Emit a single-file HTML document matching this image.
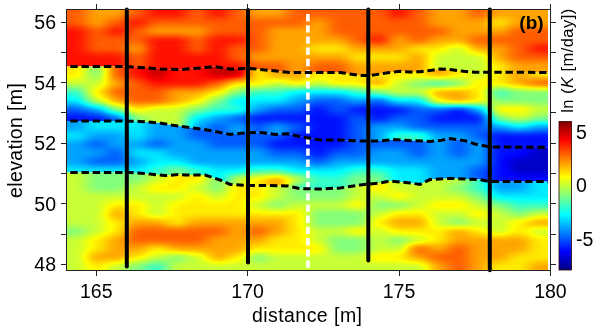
<!DOCTYPE html>
<html><head><meta charset="utf-8"><style>
html,body{margin:0;padding:0;background:#fff;width:602px;height:331px;overflow:hidden}
svg{display:block;position:absolute;left:0;top:0;will-change:transform}
</style></head><body>
<svg width="602" height="331" viewBox="0 0 602 331">
<defs>
<clipPath id="plot"><rect x="67" y="10" width="481" height="260"/></clipPath>
<clipPath id="z0"><polygon points="60.0,0.0 560.0,0.0 556.0,72.4 475.0,72.3 460.0,70.9 450.0,69.6 440.0,69.0 430.0,70.4 420.0,71.7 410.0,72.0 400.0,71.3 390.0,72.4 370.0,75.6 360.0,75.6 340.0,72.4 290.0,72.4 270.0,70.4 250.0,68.4 230.0,69.0 215.0,66.6 200.0,68.0 180.0,69.6 160.0,69.0 140.0,67.4 125.0,66.5 60.0,66.5"/></clipPath>
<clipPath id="z1"><polygon points="60.0,66.5 125.0,66.5 140.0,67.4 160.0,69.0 180.0,69.6 200.0,68.0 215.0,66.6 230.0,69.0 250.0,68.4 270.0,70.4 290.0,72.4 340.0,72.4 360.0,75.6 370.0,75.6 390.0,72.4 400.0,71.3 410.0,72.0 420.0,71.7 430.0,70.4 440.0,69.0 450.0,69.6 460.0,70.9 475.0,72.3 556.0,72.4 556.0,147.3 490.0,147.0 475.0,144.0 465.0,140.6 450.0,138.6 440.0,140.6 430.0,141.4 410.0,140.6 395.0,139.5 380.0,141.0 360.0,141.0 340.0,140.0 320.0,140.0 300.0,136.6 288.0,133.8 275.0,134.4 260.0,132.4 245.0,133.0 230.0,134.4 210.0,130.4 190.0,127.6 170.0,124.8 160.0,123.0 140.0,121.4 125.0,121.1 60.0,121.1"/></clipPath>
<clipPath id="z2"><polygon points="60.0,121.1 125.0,121.1 140.0,121.4 160.0,123.0 170.0,124.8 190.0,127.6 210.0,130.4 230.0,134.4 245.0,133.0 260.0,132.4 275.0,134.4 288.0,133.8 300.0,136.6 320.0,140.0 340.0,140.0 360.0,141.0 380.0,141.0 395.0,139.5 410.0,140.6 430.0,141.4 440.0,140.6 450.0,138.6 465.0,140.6 475.0,144.0 490.0,147.0 556.0,147.3 556.0,181.6 490.0,181.6 480.0,179.6 465.0,179.0 450.0,178.4 430.0,179.6 420.0,184.4 410.0,183.0 390.0,181.0 380.0,183.0 360.0,185.0 340.0,188.0 320.0,189.0 300.0,188.6 288.0,186.0 270.0,185.6 250.0,185.6 230.0,184.4 220.0,180.0 205.0,175.0 185.0,175.0 178.0,174.6 165.0,175.6 150.0,174.0 130.0,172.4 60.0,172.4"/></clipPath>
<clipPath id="z3"><polygon points="60.0,172.4 130.0,172.4 150.0,174.0 165.0,175.6 178.0,174.6 185.0,175.0 205.0,175.0 220.0,180.0 230.0,184.4 250.0,185.6 270.0,185.6 288.0,186.0 300.0,188.6 320.0,189.0 340.0,188.0 360.0,185.0 380.0,183.0 390.0,181.0 410.0,183.0 420.0,184.4 430.0,179.6 450.0,178.4 465.0,179.0 480.0,179.6 490.0,181.6 556.0,181.6 560.0,300.0 60.0,300.0"/></clipPath>
<filter id="bl" x="-5%" y="-5%" width="110%" height="110%" color-interpolation-filters="sRGB"><feGaussianBlur stdDeviation="7 3"/><feComponentTransfer><feFuncR type="table" tableValues="0 0 0 0 0.5 1 1 1 0.5"/><feFuncG type="table" tableValues="0 0 0.5 1 1 1 0.5 0 0"/><feFuncB type="table" tableValues="0.5 1 1 1 0.5 0 0 0 0"/></feComponentTransfer></filter>
</defs>
<g clip-path="url(#plot)">
<g clip-path="url(#z0)"><g filter="url(#bl)">
<rect x="26.2" y="-7.9" width="61.0" height="9.3" fill="#c8c8c8"/>
<rect x="86.6" y="-7.9" width="40.9" height="9.3" fill="#b6b6b6"/>
<rect x="126.9" y="-7.9" width="20.7" height="9.3" fill="#c8c8c8"/>
<rect x="147.0" y="-7.9" width="40.9" height="9.3" fill="#dbdbdb"/>
<rect x="187.2" y="-7.9" width="20.7" height="9.3" fill="#c8c8c8"/>
<rect x="207.4" y="-7.9" width="20.7" height="9.3" fill="#dbdbdb"/>
<rect x="227.5" y="-7.9" width="20.7" height="9.3" fill="#c8c8c8"/>
<rect x="247.6" y="-7.9" width="40.9" height="9.3" fill="#b6b6b6"/>
<rect x="287.9" y="-7.9" width="101.2" height="9.3" fill="#c8c8c8"/>
<rect x="388.5" y="-7.9" width="20.7" height="9.3" fill="#dbdbdb"/>
<rect x="408.6" y="-7.9" width="20.7" height="9.3" fill="#c8c8c8"/>
<rect x="428.8" y="-7.9" width="40.9" height="9.3" fill="#b6b6b6"/>
<rect x="469.0" y="-7.9" width="20.7" height="9.3" fill="#c8c8c8"/>
<rect x="489.1" y="-7.9" width="101.2" height="9.3" fill="#b6b6b6"/>
<rect x="26.2" y="0.8" width="61.0" height="9.3" fill="#c8c8c8"/>
<rect x="86.6" y="0.8" width="40.9" height="9.3" fill="#b6b6b6"/>
<rect x="126.9" y="0.8" width="20.7" height="9.3" fill="#c8c8c8"/>
<rect x="147.0" y="0.8" width="40.9" height="9.3" fill="#dbdbdb"/>
<rect x="187.2" y="0.8" width="20.7" height="9.3" fill="#c8c8c8"/>
<rect x="207.4" y="0.8" width="20.7" height="9.3" fill="#dbdbdb"/>
<rect x="227.5" y="0.8" width="20.7" height="9.3" fill="#c8c8c8"/>
<rect x="247.6" y="0.8" width="40.9" height="9.3" fill="#b6b6b6"/>
<rect x="287.9" y="0.8" width="101.2" height="9.3" fill="#c8c8c8"/>
<rect x="388.5" y="0.8" width="20.7" height="9.3" fill="#dbdbdb"/>
<rect x="408.6" y="0.8" width="20.7" height="9.3" fill="#c8c8c8"/>
<rect x="428.8" y="0.8" width="40.9" height="9.3" fill="#b6b6b6"/>
<rect x="469.0" y="0.8" width="20.7" height="9.3" fill="#c8c8c8"/>
<rect x="489.1" y="0.8" width="101.2" height="9.3" fill="#b6b6b6"/>
<rect x="26.2" y="9.5" width="61.0" height="9.3" fill="#c8c8c8"/>
<rect x="86.6" y="9.5" width="40.9" height="9.3" fill="#b6b6b6"/>
<rect x="126.9" y="9.5" width="20.7" height="9.3" fill="#c8c8c8"/>
<rect x="147.0" y="9.5" width="40.9" height="9.3" fill="#dbdbdb"/>
<rect x="187.2" y="9.5" width="20.7" height="9.3" fill="#c8c8c8"/>
<rect x="207.4" y="9.5" width="20.7" height="9.3" fill="#dbdbdb"/>
<rect x="227.5" y="9.5" width="20.7" height="9.3" fill="#c8c8c8"/>
<rect x="247.6" y="9.5" width="40.9" height="9.3" fill="#b6b6b6"/>
<rect x="287.9" y="9.5" width="101.2" height="9.3" fill="#c8c8c8"/>
<rect x="388.5" y="9.5" width="20.7" height="9.3" fill="#dbdbdb"/>
<rect x="408.6" y="9.5" width="20.7" height="9.3" fill="#c8c8c8"/>
<rect x="428.8" y="9.5" width="40.9" height="9.3" fill="#b6b6b6"/>
<rect x="469.0" y="9.5" width="20.7" height="9.3" fill="#c8c8c8"/>
<rect x="489.1" y="9.5" width="101.2" height="9.3" fill="#b6b6b6"/>
<rect x="26.2" y="18.2" width="61.0" height="9.3" fill="#c8c8c8"/>
<rect x="86.6" y="18.2" width="20.7" height="9.3" fill="#b6b6b6"/>
<rect x="106.8" y="18.2" width="20.7" height="9.3" fill="#c8c8c8"/>
<rect x="126.9" y="18.2" width="20.7" height="9.3" fill="#dbdbdb"/>
<rect x="147.0" y="18.2" width="161.6" height="9.3" fill="#c8c8c8"/>
<rect x="308.0" y="18.2" width="20.7" height="9.3" fill="#b6b6b6"/>
<rect x="328.1" y="18.2" width="101.2" height="9.3" fill="#c8c8c8"/>
<rect x="428.8" y="18.2" width="61.0" height="9.3" fill="#b6b6b6"/>
<rect x="489.1" y="18.2" width="20.7" height="9.3" fill="#a4a4a4"/>
<rect x="509.2" y="18.2" width="81.1" height="9.3" fill="#b6b6b6"/>
<rect x="26.2" y="26.9" width="61.0" height="9.3" fill="#dbdbdb"/>
<rect x="86.6" y="26.9" width="20.7" height="9.3" fill="#c8c8c8"/>
<rect x="106.8" y="26.9" width="20.7" height="9.3" fill="#dbdbdb"/>
<rect x="126.9" y="26.9" width="20.7" height="9.3" fill="#c8c8c8"/>
<rect x="147.0" y="26.9" width="61.0" height="9.3" fill="#b6b6b6"/>
<rect x="207.4" y="26.9" width="61.0" height="9.3" fill="#c8c8c8"/>
<rect x="267.8" y="26.9" width="61.0" height="9.3" fill="#b6b6b6"/>
<rect x="328.1" y="26.9" width="121.3" height="9.3" fill="#c8c8c8"/>
<rect x="448.9" y="26.9" width="61.0" height="9.3" fill="#b6b6b6"/>
<rect x="509.2" y="26.9" width="81.1" height="9.3" fill="#c8c8c8"/>
<rect x="26.2" y="35.6" width="61.0" height="9.3" fill="#dbdbdb"/>
<rect x="86.6" y="35.6" width="61.0" height="9.3" fill="#c8c8c8"/>
<rect x="147.0" y="35.6" width="40.9" height="9.3" fill="#dbdbdb"/>
<rect x="187.2" y="35.6" width="20.7" height="9.3" fill="#c8c8c8"/>
<rect x="207.4" y="35.6" width="40.9" height="9.3" fill="#dbdbdb"/>
<rect x="247.6" y="35.6" width="20.7" height="9.3" fill="#c8c8c8"/>
<rect x="267.8" y="35.6" width="81.1" height="9.3" fill="#b6b6b6"/>
<rect x="348.2" y="35.6" width="20.7" height="9.3" fill="#c8c8c8"/>
<rect x="368.4" y="35.6" width="20.7" height="9.3" fill="#dbdbdb"/>
<rect x="388.5" y="35.6" width="20.7" height="9.3" fill="#b6b6b6"/>
<rect x="408.6" y="35.6" width="20.7" height="9.3" fill="#c8c8c8"/>
<rect x="428.8" y="35.6" width="40.9" height="9.3" fill="#b6b6b6"/>
<rect x="469.0" y="35.6" width="121.3" height="9.3" fill="#c8c8c8"/>
<rect x="26.2" y="44.3" width="61.0" height="9.3" fill="#dbdbdb"/>
<rect x="86.6" y="44.3" width="40.9" height="9.3" fill="#c8c8c8"/>
<rect x="126.9" y="44.3" width="20.7" height="9.3" fill="#b6b6b6"/>
<rect x="147.0" y="44.3" width="40.9" height="9.3" fill="#dbdbdb"/>
<rect x="187.2" y="44.3" width="20.7" height="9.3" fill="#c8c8c8"/>
<rect x="207.4" y="44.3" width="20.7" height="9.3" fill="#dbdbdb"/>
<rect x="227.5" y="44.3" width="40.9" height="9.3" fill="#c8c8c8"/>
<rect x="267.8" y="44.3" width="40.9" height="9.3" fill="#b6b6b6"/>
<rect x="308.0" y="44.3" width="40.9" height="9.3" fill="#a4a4a4"/>
<rect x="348.2" y="44.3" width="61.0" height="9.3" fill="#b6b6b6"/>
<rect x="408.6" y="44.3" width="40.9" height="9.3" fill="#a4a4a4"/>
<rect x="448.9" y="44.3" width="20.7" height="9.3" fill="#929292"/>
<rect x="469.0" y="44.3" width="40.9" height="9.3" fill="#b6b6b6"/>
<rect x="509.2" y="44.3" width="20.7" height="9.3" fill="#c8c8c8"/>
<rect x="529.4" y="44.3" width="61.0" height="9.3" fill="#dbdbdb"/>
<rect x="26.2" y="53.0" width="101.2" height="9.3" fill="#dbdbdb"/>
<rect x="126.9" y="53.0" width="20.7" height="9.3" fill="#c8c8c8"/>
<rect x="147.0" y="53.0" width="81.1" height="9.3" fill="#dbdbdb"/>
<rect x="227.5" y="53.0" width="20.7" height="9.3" fill="#c8c8c8"/>
<rect x="247.6" y="53.0" width="101.2" height="9.3" fill="#b6b6b6"/>
<rect x="348.2" y="53.0" width="61.0" height="9.3" fill="#a4a4a4"/>
<rect x="408.6" y="53.0" width="20.7" height="9.3" fill="#b6b6b6"/>
<rect x="428.8" y="53.0" width="61.0" height="9.3" fill="#929292"/>
<rect x="489.1" y="53.0" width="20.7" height="9.3" fill="#b6b6b6"/>
<rect x="509.2" y="53.0" width="81.1" height="9.3" fill="#c8c8c8"/>
<rect x="26.2" y="61.7" width="101.2" height="9.3" fill="#dbdbdb"/>
<rect x="126.9" y="61.7" width="20.7" height="9.3" fill="#c8c8c8"/>
<rect x="147.0" y="61.7" width="101.2" height="9.3" fill="#dbdbdb"/>
<rect x="247.6" y="61.7" width="40.9" height="9.3" fill="#c8c8c8"/>
<rect x="287.9" y="61.7" width="20.7" height="9.3" fill="#b6b6b6"/>
<rect x="308.0" y="61.7" width="40.9" height="9.3" fill="#c8c8c8"/>
<rect x="348.2" y="61.7" width="81.1" height="9.3" fill="#b6b6b6"/>
<rect x="428.8" y="61.7" width="61.0" height="9.3" fill="#929292"/>
<rect x="489.1" y="61.7" width="20.7" height="9.3" fill="#a4a4a4"/>
<rect x="509.2" y="61.7" width="81.1" height="9.3" fill="#b6b6b6"/>
<rect x="26.2" y="70.4" width="101.2" height="9.3" fill="#dbdbdb"/>
<rect x="126.9" y="70.4" width="20.7" height="9.3" fill="#c8c8c8"/>
<rect x="147.0" y="70.4" width="101.2" height="9.3" fill="#dbdbdb"/>
<rect x="247.6" y="70.4" width="40.9" height="9.3" fill="#c8c8c8"/>
<rect x="287.9" y="70.4" width="20.7" height="9.3" fill="#b6b6b6"/>
<rect x="308.0" y="70.4" width="40.9" height="9.3" fill="#c8c8c8"/>
<rect x="348.2" y="70.4" width="81.1" height="9.3" fill="#b6b6b6"/>
<rect x="428.8" y="70.4" width="61.0" height="9.3" fill="#929292"/>
<rect x="489.1" y="70.4" width="20.7" height="9.3" fill="#a4a4a4"/>
<rect x="509.2" y="70.4" width="81.1" height="9.3" fill="#b6b6b6"/>
<rect x="26.2" y="79.1" width="101.2" height="9.3" fill="#dbdbdb"/>
<rect x="126.9" y="79.1" width="20.7" height="9.3" fill="#c8c8c8"/>
<rect x="147.0" y="79.1" width="101.2" height="9.3" fill="#dbdbdb"/>
<rect x="247.6" y="79.1" width="40.9" height="9.3" fill="#c8c8c8"/>
<rect x="287.9" y="79.1" width="20.7" height="9.3" fill="#b6b6b6"/>
<rect x="308.0" y="79.1" width="40.9" height="9.3" fill="#c8c8c8"/>
<rect x="348.2" y="79.1" width="81.1" height="9.3" fill="#b6b6b6"/>
<rect x="428.8" y="79.1" width="61.0" height="9.3" fill="#929292"/>
<rect x="489.1" y="79.1" width="20.7" height="9.3" fill="#a4a4a4"/>
<rect x="509.2" y="79.1" width="81.1" height="9.3" fill="#b6b6b6"/>
<rect x="26.2" y="87.8" width="101.2" height="9.3" fill="#dbdbdb"/>
<rect x="126.9" y="87.8" width="20.7" height="9.3" fill="#c8c8c8"/>
<rect x="147.0" y="87.8" width="101.2" height="9.3" fill="#dbdbdb"/>
<rect x="247.6" y="87.8" width="40.9" height="9.3" fill="#c8c8c8"/>
<rect x="287.9" y="87.8" width="20.7" height="9.3" fill="#b6b6b6"/>
<rect x="308.0" y="87.8" width="40.9" height="9.3" fill="#c8c8c8"/>
<rect x="348.2" y="87.8" width="81.1" height="9.3" fill="#b6b6b6"/>
<rect x="428.8" y="87.8" width="61.0" height="9.3" fill="#929292"/>
<rect x="489.1" y="87.8" width="20.7" height="9.3" fill="#a4a4a4"/>
<rect x="509.2" y="87.8" width="81.1" height="9.3" fill="#b6b6b6"/>
<rect x="26.2" y="96.5" width="101.2" height="9.3" fill="#dbdbdb"/>
<rect x="126.9" y="96.5" width="20.7" height="9.3" fill="#c8c8c8"/>
<rect x="147.0" y="96.5" width="101.2" height="9.3" fill="#dbdbdb"/>
<rect x="247.6" y="96.5" width="40.9" height="9.3" fill="#c8c8c8"/>
<rect x="287.9" y="96.5" width="20.7" height="9.3" fill="#b6b6b6"/>
<rect x="308.0" y="96.5" width="40.9" height="9.3" fill="#c8c8c8"/>
<rect x="348.2" y="96.5" width="81.1" height="9.3" fill="#b6b6b6"/>
<rect x="428.8" y="96.5" width="61.0" height="9.3" fill="#929292"/>
<rect x="489.1" y="96.5" width="20.7" height="9.3" fill="#a4a4a4"/>
<rect x="509.2" y="96.5" width="81.1" height="9.3" fill="#b6b6b6"/>
<rect x="26.2" y="105.2" width="101.2" height="9.3" fill="#dbdbdb"/>
<rect x="126.9" y="105.2" width="20.7" height="9.3" fill="#c8c8c8"/>
<rect x="147.0" y="105.2" width="101.2" height="9.3" fill="#dbdbdb"/>
<rect x="247.6" y="105.2" width="40.9" height="9.3" fill="#c8c8c8"/>
<rect x="287.9" y="105.2" width="20.7" height="9.3" fill="#b6b6b6"/>
<rect x="308.0" y="105.2" width="40.9" height="9.3" fill="#c8c8c8"/>
<rect x="348.2" y="105.2" width="81.1" height="9.3" fill="#b6b6b6"/>
<rect x="428.8" y="105.2" width="61.0" height="9.3" fill="#929292"/>
<rect x="489.1" y="105.2" width="20.7" height="9.3" fill="#a4a4a4"/>
<rect x="509.2" y="105.2" width="81.1" height="9.3" fill="#b6b6b6"/>
<rect x="26.2" y="113.9" width="101.2" height="9.3" fill="#dbdbdb"/>
<rect x="126.9" y="113.9" width="20.7" height="9.3" fill="#c8c8c8"/>
<rect x="147.0" y="113.9" width="101.2" height="9.3" fill="#dbdbdb"/>
<rect x="247.6" y="113.9" width="40.9" height="9.3" fill="#c8c8c8"/>
<rect x="287.9" y="113.9" width="20.7" height="9.3" fill="#b6b6b6"/>
<rect x="308.0" y="113.9" width="40.9" height="9.3" fill="#c8c8c8"/>
<rect x="348.2" y="113.9" width="81.1" height="9.3" fill="#b6b6b6"/>
<rect x="428.8" y="113.9" width="61.0" height="9.3" fill="#929292"/>
<rect x="489.1" y="113.9" width="20.7" height="9.3" fill="#a4a4a4"/>
<rect x="509.2" y="113.9" width="81.1" height="9.3" fill="#b6b6b6"/>
<rect x="26.2" y="122.6" width="101.2" height="9.3" fill="#dbdbdb"/>
<rect x="126.9" y="122.6" width="20.7" height="9.3" fill="#c8c8c8"/>
<rect x="147.0" y="122.6" width="101.2" height="9.3" fill="#dbdbdb"/>
<rect x="247.6" y="122.6" width="40.9" height="9.3" fill="#c8c8c8"/>
<rect x="287.9" y="122.6" width="20.7" height="9.3" fill="#b6b6b6"/>
<rect x="308.0" y="122.6" width="40.9" height="9.3" fill="#c8c8c8"/>
<rect x="348.2" y="122.6" width="81.1" height="9.3" fill="#b6b6b6"/>
<rect x="428.8" y="122.6" width="61.0" height="9.3" fill="#929292"/>
<rect x="489.1" y="122.6" width="20.7" height="9.3" fill="#a4a4a4"/>
<rect x="509.2" y="122.6" width="81.1" height="9.3" fill="#b6b6b6"/>
<rect x="26.2" y="131.3" width="101.2" height="9.3" fill="#dbdbdb"/>
<rect x="126.9" y="131.3" width="20.7" height="9.3" fill="#c8c8c8"/>
<rect x="147.0" y="131.3" width="101.2" height="9.3" fill="#dbdbdb"/>
<rect x="247.6" y="131.3" width="40.9" height="9.3" fill="#c8c8c8"/>
<rect x="287.9" y="131.3" width="20.7" height="9.3" fill="#b6b6b6"/>
<rect x="308.0" y="131.3" width="40.9" height="9.3" fill="#c8c8c8"/>
<rect x="348.2" y="131.3" width="81.1" height="9.3" fill="#b6b6b6"/>
<rect x="428.8" y="131.3" width="61.0" height="9.3" fill="#929292"/>
<rect x="489.1" y="131.3" width="20.7" height="9.3" fill="#a4a4a4"/>
<rect x="509.2" y="131.3" width="81.1" height="9.3" fill="#b6b6b6"/>
<rect x="26.2" y="140.0" width="101.2" height="9.3" fill="#dbdbdb"/>
<rect x="126.9" y="140.0" width="20.7" height="9.3" fill="#c8c8c8"/>
<rect x="147.0" y="140.0" width="101.2" height="9.3" fill="#dbdbdb"/>
<rect x="247.6" y="140.0" width="40.9" height="9.3" fill="#c8c8c8"/>
<rect x="287.9" y="140.0" width="20.7" height="9.3" fill="#b6b6b6"/>
<rect x="308.0" y="140.0" width="40.9" height="9.3" fill="#c8c8c8"/>
<rect x="348.2" y="140.0" width="81.1" height="9.3" fill="#b6b6b6"/>
<rect x="428.8" y="140.0" width="61.0" height="9.3" fill="#929292"/>
<rect x="489.1" y="140.0" width="20.7" height="9.3" fill="#a4a4a4"/>
<rect x="509.2" y="140.0" width="81.1" height="9.3" fill="#b6b6b6"/>
<rect x="26.2" y="148.7" width="101.2" height="9.3" fill="#dbdbdb"/>
<rect x="126.9" y="148.7" width="20.7" height="9.3" fill="#c8c8c8"/>
<rect x="147.0" y="148.7" width="101.2" height="9.3" fill="#dbdbdb"/>
<rect x="247.6" y="148.7" width="40.9" height="9.3" fill="#c8c8c8"/>
<rect x="287.9" y="148.7" width="20.7" height="9.3" fill="#b6b6b6"/>
<rect x="308.0" y="148.7" width="40.9" height="9.3" fill="#c8c8c8"/>
<rect x="348.2" y="148.7" width="81.1" height="9.3" fill="#b6b6b6"/>
<rect x="428.8" y="148.7" width="61.0" height="9.3" fill="#929292"/>
<rect x="489.1" y="148.7" width="20.7" height="9.3" fill="#a4a4a4"/>
<rect x="509.2" y="148.7" width="81.1" height="9.3" fill="#b6b6b6"/>
<rect x="26.2" y="157.4" width="101.2" height="9.3" fill="#dbdbdb"/>
<rect x="126.9" y="157.4" width="20.7" height="9.3" fill="#c8c8c8"/>
<rect x="147.0" y="157.4" width="101.2" height="9.3" fill="#dbdbdb"/>
<rect x="247.6" y="157.4" width="40.9" height="9.3" fill="#c8c8c8"/>
<rect x="287.9" y="157.4" width="20.7" height="9.3" fill="#b6b6b6"/>
<rect x="308.0" y="157.4" width="40.9" height="9.3" fill="#c8c8c8"/>
<rect x="348.2" y="157.4" width="81.1" height="9.3" fill="#b6b6b6"/>
<rect x="428.8" y="157.4" width="61.0" height="9.3" fill="#929292"/>
<rect x="489.1" y="157.4" width="20.7" height="9.3" fill="#a4a4a4"/>
<rect x="509.2" y="157.4" width="81.1" height="9.3" fill="#b6b6b6"/>
<rect x="26.2" y="166.1" width="101.2" height="9.3" fill="#dbdbdb"/>
<rect x="126.9" y="166.1" width="20.7" height="9.3" fill="#c8c8c8"/>
<rect x="147.0" y="166.1" width="101.2" height="9.3" fill="#dbdbdb"/>
<rect x="247.6" y="166.1" width="40.9" height="9.3" fill="#c8c8c8"/>
<rect x="287.9" y="166.1" width="20.7" height="9.3" fill="#b6b6b6"/>
<rect x="308.0" y="166.1" width="40.9" height="9.3" fill="#c8c8c8"/>
<rect x="348.2" y="166.1" width="81.1" height="9.3" fill="#b6b6b6"/>
<rect x="428.8" y="166.1" width="61.0" height="9.3" fill="#929292"/>
<rect x="489.1" y="166.1" width="20.7" height="9.3" fill="#a4a4a4"/>
<rect x="509.2" y="166.1" width="81.1" height="9.3" fill="#b6b6b6"/>
<rect x="26.2" y="174.8" width="101.2" height="9.3" fill="#dbdbdb"/>
<rect x="126.9" y="174.8" width="20.7" height="9.3" fill="#c8c8c8"/>
<rect x="147.0" y="174.8" width="101.2" height="9.3" fill="#dbdbdb"/>
<rect x="247.6" y="174.8" width="40.9" height="9.3" fill="#c8c8c8"/>
<rect x="287.9" y="174.8" width="20.7" height="9.3" fill="#b6b6b6"/>
<rect x="308.0" y="174.8" width="40.9" height="9.3" fill="#c8c8c8"/>
<rect x="348.2" y="174.8" width="81.1" height="9.3" fill="#b6b6b6"/>
<rect x="428.8" y="174.8" width="61.0" height="9.3" fill="#929292"/>
<rect x="489.1" y="174.8" width="20.7" height="9.3" fill="#a4a4a4"/>
<rect x="509.2" y="174.8" width="81.1" height="9.3" fill="#b6b6b6"/>
<rect x="26.2" y="183.5" width="101.2" height="9.3" fill="#dbdbdb"/>
<rect x="126.9" y="183.5" width="20.7" height="9.3" fill="#c8c8c8"/>
<rect x="147.0" y="183.5" width="101.2" height="9.3" fill="#dbdbdb"/>
<rect x="247.6" y="183.5" width="40.9" height="9.3" fill="#c8c8c8"/>
<rect x="287.9" y="183.5" width="20.7" height="9.3" fill="#b6b6b6"/>
<rect x="308.0" y="183.5" width="40.9" height="9.3" fill="#c8c8c8"/>
<rect x="348.2" y="183.5" width="81.1" height="9.3" fill="#b6b6b6"/>
<rect x="428.8" y="183.5" width="61.0" height="9.3" fill="#929292"/>
<rect x="489.1" y="183.5" width="20.7" height="9.3" fill="#a4a4a4"/>
<rect x="509.2" y="183.5" width="81.1" height="9.3" fill="#b6b6b6"/>
<rect x="26.2" y="192.2" width="101.2" height="9.3" fill="#dbdbdb"/>
<rect x="126.9" y="192.2" width="20.7" height="9.3" fill="#c8c8c8"/>
<rect x="147.0" y="192.2" width="101.2" height="9.3" fill="#dbdbdb"/>
<rect x="247.6" y="192.2" width="40.9" height="9.3" fill="#c8c8c8"/>
<rect x="287.9" y="192.2" width="20.7" height="9.3" fill="#b6b6b6"/>
<rect x="308.0" y="192.2" width="40.9" height="9.3" fill="#c8c8c8"/>
<rect x="348.2" y="192.2" width="81.1" height="9.3" fill="#b6b6b6"/>
<rect x="428.8" y="192.2" width="61.0" height="9.3" fill="#929292"/>
<rect x="489.1" y="192.2" width="20.7" height="9.3" fill="#a4a4a4"/>
<rect x="509.2" y="192.2" width="81.1" height="9.3" fill="#b6b6b6"/>
<rect x="26.2" y="200.9" width="101.2" height="9.3" fill="#dbdbdb"/>
<rect x="126.9" y="200.9" width="20.7" height="9.3" fill="#c8c8c8"/>
<rect x="147.0" y="200.9" width="101.2" height="9.3" fill="#dbdbdb"/>
<rect x="247.6" y="200.9" width="40.9" height="9.3" fill="#c8c8c8"/>
<rect x="287.9" y="200.9" width="20.7" height="9.3" fill="#b6b6b6"/>
<rect x="308.0" y="200.9" width="40.9" height="9.3" fill="#c8c8c8"/>
<rect x="348.2" y="200.9" width="81.1" height="9.3" fill="#b6b6b6"/>
<rect x="428.8" y="200.9" width="61.0" height="9.3" fill="#929292"/>
<rect x="489.1" y="200.9" width="20.7" height="9.3" fill="#a4a4a4"/>
<rect x="509.2" y="200.9" width="81.1" height="9.3" fill="#b6b6b6"/>
<rect x="26.2" y="209.6" width="101.2" height="9.3" fill="#dbdbdb"/>
<rect x="126.9" y="209.6" width="20.7" height="9.3" fill="#c8c8c8"/>
<rect x="147.0" y="209.6" width="101.2" height="9.3" fill="#dbdbdb"/>
<rect x="247.6" y="209.6" width="40.9" height="9.3" fill="#c8c8c8"/>
<rect x="287.9" y="209.6" width="20.7" height="9.3" fill="#b6b6b6"/>
<rect x="308.0" y="209.6" width="40.9" height="9.3" fill="#c8c8c8"/>
<rect x="348.2" y="209.6" width="81.1" height="9.3" fill="#b6b6b6"/>
<rect x="428.8" y="209.6" width="61.0" height="9.3" fill="#929292"/>
<rect x="489.1" y="209.6" width="20.7" height="9.3" fill="#a4a4a4"/>
<rect x="509.2" y="209.6" width="81.1" height="9.3" fill="#b6b6b6"/>
<rect x="26.2" y="218.3" width="101.2" height="9.3" fill="#dbdbdb"/>
<rect x="126.9" y="218.3" width="20.7" height="9.3" fill="#c8c8c8"/>
<rect x="147.0" y="218.3" width="101.2" height="9.3" fill="#dbdbdb"/>
<rect x="247.6" y="218.3" width="40.9" height="9.3" fill="#c8c8c8"/>
<rect x="287.9" y="218.3" width="20.7" height="9.3" fill="#b6b6b6"/>
<rect x="308.0" y="218.3" width="40.9" height="9.3" fill="#c8c8c8"/>
<rect x="348.2" y="218.3" width="81.1" height="9.3" fill="#b6b6b6"/>
<rect x="428.8" y="218.3" width="61.0" height="9.3" fill="#929292"/>
<rect x="489.1" y="218.3" width="20.7" height="9.3" fill="#a4a4a4"/>
<rect x="509.2" y="218.3" width="81.1" height="9.3" fill="#b6b6b6"/>
<rect x="26.2" y="227.0" width="101.2" height="9.3" fill="#dbdbdb"/>
<rect x="126.9" y="227.0" width="20.7" height="9.3" fill="#c8c8c8"/>
<rect x="147.0" y="227.0" width="101.2" height="9.3" fill="#dbdbdb"/>
<rect x="247.6" y="227.0" width="40.9" height="9.3" fill="#c8c8c8"/>
<rect x="287.9" y="227.0" width="20.7" height="9.3" fill="#b6b6b6"/>
<rect x="308.0" y="227.0" width="40.9" height="9.3" fill="#c8c8c8"/>
<rect x="348.2" y="227.0" width="81.1" height="9.3" fill="#b6b6b6"/>
<rect x="428.8" y="227.0" width="61.0" height="9.3" fill="#929292"/>
<rect x="489.1" y="227.0" width="20.7" height="9.3" fill="#a4a4a4"/>
<rect x="509.2" y="227.0" width="81.1" height="9.3" fill="#b6b6b6"/>
<rect x="26.2" y="235.7" width="101.2" height="9.3" fill="#dbdbdb"/>
<rect x="126.9" y="235.7" width="20.7" height="9.3" fill="#c8c8c8"/>
<rect x="147.0" y="235.7" width="101.2" height="9.3" fill="#dbdbdb"/>
<rect x="247.6" y="235.7" width="40.9" height="9.3" fill="#c8c8c8"/>
<rect x="287.9" y="235.7" width="20.7" height="9.3" fill="#b6b6b6"/>
<rect x="308.0" y="235.7" width="40.9" height="9.3" fill="#c8c8c8"/>
<rect x="348.2" y="235.7" width="81.1" height="9.3" fill="#b6b6b6"/>
<rect x="428.8" y="235.7" width="61.0" height="9.3" fill="#929292"/>
<rect x="489.1" y="235.7" width="20.7" height="9.3" fill="#a4a4a4"/>
<rect x="509.2" y="235.7" width="81.1" height="9.3" fill="#b6b6b6"/>
<rect x="26.2" y="244.4" width="101.2" height="9.3" fill="#dbdbdb"/>
<rect x="126.9" y="244.4" width="20.7" height="9.3" fill="#c8c8c8"/>
<rect x="147.0" y="244.4" width="101.2" height="9.3" fill="#dbdbdb"/>
<rect x="247.6" y="244.4" width="40.9" height="9.3" fill="#c8c8c8"/>
<rect x="287.9" y="244.4" width="20.7" height="9.3" fill="#b6b6b6"/>
<rect x="308.0" y="244.4" width="40.9" height="9.3" fill="#c8c8c8"/>
<rect x="348.2" y="244.4" width="81.1" height="9.3" fill="#b6b6b6"/>
<rect x="428.8" y="244.4" width="61.0" height="9.3" fill="#929292"/>
<rect x="489.1" y="244.4" width="20.7" height="9.3" fill="#a4a4a4"/>
<rect x="509.2" y="244.4" width="81.1" height="9.3" fill="#b6b6b6"/>
<rect x="26.2" y="253.1" width="101.2" height="9.3" fill="#dbdbdb"/>
<rect x="126.9" y="253.1" width="20.7" height="9.3" fill="#c8c8c8"/>
<rect x="147.0" y="253.1" width="101.2" height="9.3" fill="#dbdbdb"/>
<rect x="247.6" y="253.1" width="40.9" height="9.3" fill="#c8c8c8"/>
<rect x="287.9" y="253.1" width="20.7" height="9.3" fill="#b6b6b6"/>
<rect x="308.0" y="253.1" width="40.9" height="9.3" fill="#c8c8c8"/>
<rect x="348.2" y="253.1" width="81.1" height="9.3" fill="#b6b6b6"/>
<rect x="428.8" y="253.1" width="61.0" height="9.3" fill="#929292"/>
<rect x="489.1" y="253.1" width="20.7" height="9.3" fill="#a4a4a4"/>
<rect x="509.2" y="253.1" width="81.1" height="9.3" fill="#b6b6b6"/>
<rect x="26.2" y="261.8" width="101.2" height="9.3" fill="#dbdbdb"/>
<rect x="126.9" y="261.8" width="20.7" height="9.3" fill="#c8c8c8"/>
<rect x="147.0" y="261.8" width="101.2" height="9.3" fill="#dbdbdb"/>
<rect x="247.6" y="261.8" width="40.9" height="9.3" fill="#c8c8c8"/>
<rect x="287.9" y="261.8" width="20.7" height="9.3" fill="#b6b6b6"/>
<rect x="308.0" y="261.8" width="40.9" height="9.3" fill="#c8c8c8"/>
<rect x="348.2" y="261.8" width="81.1" height="9.3" fill="#b6b6b6"/>
<rect x="428.8" y="261.8" width="61.0" height="9.3" fill="#929292"/>
<rect x="489.1" y="261.8" width="20.7" height="9.3" fill="#a4a4a4"/>
<rect x="509.2" y="261.8" width="81.1" height="9.3" fill="#b6b6b6"/>
<rect x="26.2" y="270.5" width="101.2" height="9.3" fill="#dbdbdb"/>
<rect x="126.9" y="270.5" width="20.7" height="9.3" fill="#c8c8c8"/>
<rect x="147.0" y="270.5" width="101.2" height="9.3" fill="#dbdbdb"/>
<rect x="247.6" y="270.5" width="40.9" height="9.3" fill="#c8c8c8"/>
<rect x="287.9" y="270.5" width="20.7" height="9.3" fill="#b6b6b6"/>
<rect x="308.0" y="270.5" width="40.9" height="9.3" fill="#c8c8c8"/>
<rect x="348.2" y="270.5" width="81.1" height="9.3" fill="#b6b6b6"/>
<rect x="428.8" y="270.5" width="61.0" height="9.3" fill="#929292"/>
<rect x="489.1" y="270.5" width="20.7" height="9.3" fill="#a4a4a4"/>
<rect x="509.2" y="270.5" width="81.1" height="9.3" fill="#b6b6b6"/>
<rect x="26.2" y="279.2" width="101.2" height="9.3" fill="#dbdbdb"/>
<rect x="126.9" y="279.2" width="20.7" height="9.3" fill="#c8c8c8"/>
<rect x="147.0" y="279.2" width="101.2" height="9.3" fill="#dbdbdb"/>
<rect x="247.6" y="279.2" width="40.9" height="9.3" fill="#c8c8c8"/>
<rect x="287.9" y="279.2" width="20.7" height="9.3" fill="#b6b6b6"/>
<rect x="308.0" y="279.2" width="40.9" height="9.3" fill="#c8c8c8"/>
<rect x="348.2" y="279.2" width="81.1" height="9.3" fill="#b6b6b6"/>
<rect x="428.8" y="279.2" width="61.0" height="9.3" fill="#929292"/>
<rect x="489.1" y="279.2" width="20.7" height="9.3" fill="#a4a4a4"/>
<rect x="509.2" y="279.2" width="81.1" height="9.3" fill="#b6b6b6"/>
</g></g>
<g clip-path="url(#z1)"><g filter="url(#bl)">
<rect x="26.2" y="-7.9" width="61.0" height="9.3" fill="#a4a4a4"/>
<rect x="86.6" y="-7.9" width="20.7" height="9.3" fill="#808080"/>
<rect x="106.8" y="-7.9" width="20.7" height="9.3" fill="#c8c8c8"/>
<rect x="126.9" y="-7.9" width="20.7" height="9.3" fill="#dbdbdb"/>
<rect x="147.0" y="-7.9" width="20.7" height="9.3" fill="#ededed"/>
<rect x="167.1" y="-7.9" width="40.9" height="9.3" fill="#dbdbdb"/>
<rect x="207.4" y="-7.9" width="40.9" height="9.3" fill="#ededed"/>
<rect x="247.6" y="-7.9" width="20.7" height="9.3" fill="#a4a4a4"/>
<rect x="267.8" y="-7.9" width="40.9" height="9.3" fill="#b6b6b6"/>
<rect x="308.0" y="-7.9" width="121.3" height="9.3" fill="#a4a4a4"/>
<rect x="428.8" y="-7.9" width="20.7" height="9.3" fill="#b6b6b6"/>
<rect x="448.9" y="-7.9" width="20.7" height="9.3" fill="#a4a4a4"/>
<rect x="469.0" y="-7.9" width="20.7" height="9.3" fill="#929292"/>
<rect x="489.1" y="-7.9" width="20.7" height="9.3" fill="#a4a4a4"/>
<rect x="509.2" y="-7.9" width="20.7" height="9.3" fill="#b6b6b6"/>
<rect x="529.4" y="-7.9" width="61.0" height="9.3" fill="#a4a4a4"/>
<rect x="26.2" y="0.8" width="61.0" height="9.3" fill="#a4a4a4"/>
<rect x="86.6" y="0.8" width="20.7" height="9.3" fill="#808080"/>
<rect x="106.8" y="0.8" width="20.7" height="9.3" fill="#c8c8c8"/>
<rect x="126.9" y="0.8" width="20.7" height="9.3" fill="#dbdbdb"/>
<rect x="147.0" y="0.8" width="20.7" height="9.3" fill="#ededed"/>
<rect x="167.1" y="0.8" width="40.9" height="9.3" fill="#dbdbdb"/>
<rect x="207.4" y="0.8" width="40.9" height="9.3" fill="#ededed"/>
<rect x="247.6" y="0.8" width="20.7" height="9.3" fill="#a4a4a4"/>
<rect x="267.8" y="0.8" width="40.9" height="9.3" fill="#b6b6b6"/>
<rect x="308.0" y="0.8" width="121.3" height="9.3" fill="#a4a4a4"/>
<rect x="428.8" y="0.8" width="20.7" height="9.3" fill="#b6b6b6"/>
<rect x="448.9" y="0.8" width="20.7" height="9.3" fill="#a4a4a4"/>
<rect x="469.0" y="0.8" width="20.7" height="9.3" fill="#929292"/>
<rect x="489.1" y="0.8" width="20.7" height="9.3" fill="#a4a4a4"/>
<rect x="509.2" y="0.8" width="20.7" height="9.3" fill="#b6b6b6"/>
<rect x="529.4" y="0.8" width="61.0" height="9.3" fill="#a4a4a4"/>
<rect x="26.2" y="9.5" width="61.0" height="9.3" fill="#a4a4a4"/>
<rect x="86.6" y="9.5" width="20.7" height="9.3" fill="#808080"/>
<rect x="106.8" y="9.5" width="20.7" height="9.3" fill="#c8c8c8"/>
<rect x="126.9" y="9.5" width="20.7" height="9.3" fill="#dbdbdb"/>
<rect x="147.0" y="9.5" width="20.7" height="9.3" fill="#ededed"/>
<rect x="167.1" y="9.5" width="40.9" height="9.3" fill="#dbdbdb"/>
<rect x="207.4" y="9.5" width="40.9" height="9.3" fill="#ededed"/>
<rect x="247.6" y="9.5" width="20.7" height="9.3" fill="#a4a4a4"/>
<rect x="267.8" y="9.5" width="40.9" height="9.3" fill="#b6b6b6"/>
<rect x="308.0" y="9.5" width="121.3" height="9.3" fill="#a4a4a4"/>
<rect x="428.8" y="9.5" width="20.7" height="9.3" fill="#b6b6b6"/>
<rect x="448.9" y="9.5" width="20.7" height="9.3" fill="#a4a4a4"/>
<rect x="469.0" y="9.5" width="20.7" height="9.3" fill="#929292"/>
<rect x="489.1" y="9.5" width="20.7" height="9.3" fill="#a4a4a4"/>
<rect x="509.2" y="9.5" width="20.7" height="9.3" fill="#b6b6b6"/>
<rect x="529.4" y="9.5" width="61.0" height="9.3" fill="#a4a4a4"/>
<rect x="26.2" y="18.2" width="61.0" height="9.3" fill="#a4a4a4"/>
<rect x="86.6" y="18.2" width="20.7" height="9.3" fill="#808080"/>
<rect x="106.8" y="18.2" width="20.7" height="9.3" fill="#c8c8c8"/>
<rect x="126.9" y="18.2" width="20.7" height="9.3" fill="#dbdbdb"/>
<rect x="147.0" y="18.2" width="20.7" height="9.3" fill="#ededed"/>
<rect x="167.1" y="18.2" width="40.9" height="9.3" fill="#dbdbdb"/>
<rect x="207.4" y="18.2" width="40.9" height="9.3" fill="#ededed"/>
<rect x="247.6" y="18.2" width="20.7" height="9.3" fill="#a4a4a4"/>
<rect x="267.8" y="18.2" width="40.9" height="9.3" fill="#b6b6b6"/>
<rect x="308.0" y="18.2" width="121.3" height="9.3" fill="#a4a4a4"/>
<rect x="428.8" y="18.2" width="20.7" height="9.3" fill="#b6b6b6"/>
<rect x="448.9" y="18.2" width="20.7" height="9.3" fill="#a4a4a4"/>
<rect x="469.0" y="18.2" width="20.7" height="9.3" fill="#929292"/>
<rect x="489.1" y="18.2" width="20.7" height="9.3" fill="#a4a4a4"/>
<rect x="509.2" y="18.2" width="20.7" height="9.3" fill="#b6b6b6"/>
<rect x="529.4" y="18.2" width="61.0" height="9.3" fill="#a4a4a4"/>
<rect x="26.2" y="26.9" width="61.0" height="9.3" fill="#a4a4a4"/>
<rect x="86.6" y="26.9" width="20.7" height="9.3" fill="#808080"/>
<rect x="106.8" y="26.9" width="20.7" height="9.3" fill="#c8c8c8"/>
<rect x="126.9" y="26.9" width="20.7" height="9.3" fill="#dbdbdb"/>
<rect x="147.0" y="26.9" width="20.7" height="9.3" fill="#ededed"/>
<rect x="167.1" y="26.9" width="40.9" height="9.3" fill="#dbdbdb"/>
<rect x="207.4" y="26.9" width="40.9" height="9.3" fill="#ededed"/>
<rect x="247.6" y="26.9" width="20.7" height="9.3" fill="#a4a4a4"/>
<rect x="267.8" y="26.9" width="40.9" height="9.3" fill="#b6b6b6"/>
<rect x="308.0" y="26.9" width="121.3" height="9.3" fill="#a4a4a4"/>
<rect x="428.8" y="26.9" width="20.7" height="9.3" fill="#b6b6b6"/>
<rect x="448.9" y="26.9" width="20.7" height="9.3" fill="#a4a4a4"/>
<rect x="469.0" y="26.9" width="20.7" height="9.3" fill="#929292"/>
<rect x="489.1" y="26.9" width="20.7" height="9.3" fill="#a4a4a4"/>
<rect x="509.2" y="26.9" width="20.7" height="9.3" fill="#b6b6b6"/>
<rect x="529.4" y="26.9" width="61.0" height="9.3" fill="#a4a4a4"/>
<rect x="26.2" y="35.6" width="61.0" height="9.3" fill="#a4a4a4"/>
<rect x="86.6" y="35.6" width="20.7" height="9.3" fill="#808080"/>
<rect x="106.8" y="35.6" width="20.7" height="9.3" fill="#c8c8c8"/>
<rect x="126.9" y="35.6" width="20.7" height="9.3" fill="#dbdbdb"/>
<rect x="147.0" y="35.6" width="20.7" height="9.3" fill="#ededed"/>
<rect x="167.1" y="35.6" width="40.9" height="9.3" fill="#dbdbdb"/>
<rect x="207.4" y="35.6" width="40.9" height="9.3" fill="#ededed"/>
<rect x="247.6" y="35.6" width="20.7" height="9.3" fill="#a4a4a4"/>
<rect x="267.8" y="35.6" width="40.9" height="9.3" fill="#b6b6b6"/>
<rect x="308.0" y="35.6" width="121.3" height="9.3" fill="#a4a4a4"/>
<rect x="428.8" y="35.6" width="20.7" height="9.3" fill="#b6b6b6"/>
<rect x="448.9" y="35.6" width="20.7" height="9.3" fill="#a4a4a4"/>
<rect x="469.0" y="35.6" width="20.7" height="9.3" fill="#929292"/>
<rect x="489.1" y="35.6" width="20.7" height="9.3" fill="#a4a4a4"/>
<rect x="509.2" y="35.6" width="20.7" height="9.3" fill="#b6b6b6"/>
<rect x="529.4" y="35.6" width="61.0" height="9.3" fill="#a4a4a4"/>
<rect x="26.2" y="44.3" width="61.0" height="9.3" fill="#a4a4a4"/>
<rect x="86.6" y="44.3" width="20.7" height="9.3" fill="#808080"/>
<rect x="106.8" y="44.3" width="20.7" height="9.3" fill="#c8c8c8"/>
<rect x="126.9" y="44.3" width="20.7" height="9.3" fill="#dbdbdb"/>
<rect x="147.0" y="44.3" width="20.7" height="9.3" fill="#ededed"/>
<rect x="167.1" y="44.3" width="40.9" height="9.3" fill="#dbdbdb"/>
<rect x="207.4" y="44.3" width="40.9" height="9.3" fill="#ededed"/>
<rect x="247.6" y="44.3" width="20.7" height="9.3" fill="#a4a4a4"/>
<rect x="267.8" y="44.3" width="40.9" height="9.3" fill="#b6b6b6"/>
<rect x="308.0" y="44.3" width="121.3" height="9.3" fill="#a4a4a4"/>
<rect x="428.8" y="44.3" width="20.7" height="9.3" fill="#b6b6b6"/>
<rect x="448.9" y="44.3" width="20.7" height="9.3" fill="#a4a4a4"/>
<rect x="469.0" y="44.3" width="20.7" height="9.3" fill="#929292"/>
<rect x="489.1" y="44.3" width="20.7" height="9.3" fill="#a4a4a4"/>
<rect x="509.2" y="44.3" width="20.7" height="9.3" fill="#b6b6b6"/>
<rect x="529.4" y="44.3" width="61.0" height="9.3" fill="#a4a4a4"/>
<rect x="26.2" y="53.0" width="61.0" height="9.3" fill="#a4a4a4"/>
<rect x="86.6" y="53.0" width="20.7" height="9.3" fill="#808080"/>
<rect x="106.8" y="53.0" width="20.7" height="9.3" fill="#c8c8c8"/>
<rect x="126.9" y="53.0" width="20.7" height="9.3" fill="#dbdbdb"/>
<rect x="147.0" y="53.0" width="20.7" height="9.3" fill="#ededed"/>
<rect x="167.1" y="53.0" width="40.9" height="9.3" fill="#dbdbdb"/>
<rect x="207.4" y="53.0" width="40.9" height="9.3" fill="#ededed"/>
<rect x="247.6" y="53.0" width="20.7" height="9.3" fill="#a4a4a4"/>
<rect x="267.8" y="53.0" width="40.9" height="9.3" fill="#b6b6b6"/>
<rect x="308.0" y="53.0" width="121.3" height="9.3" fill="#a4a4a4"/>
<rect x="428.8" y="53.0" width="20.7" height="9.3" fill="#b6b6b6"/>
<rect x="448.9" y="53.0" width="20.7" height="9.3" fill="#a4a4a4"/>
<rect x="469.0" y="53.0" width="20.7" height="9.3" fill="#929292"/>
<rect x="489.1" y="53.0" width="20.7" height="9.3" fill="#a4a4a4"/>
<rect x="509.2" y="53.0" width="20.7" height="9.3" fill="#b6b6b6"/>
<rect x="529.4" y="53.0" width="61.0" height="9.3" fill="#a4a4a4"/>
<rect x="26.2" y="61.7" width="61.0" height="9.3" fill="#a4a4a4"/>
<rect x="86.6" y="61.7" width="20.7" height="9.3" fill="#808080"/>
<rect x="106.8" y="61.7" width="20.7" height="9.3" fill="#c8c8c8"/>
<rect x="126.9" y="61.7" width="20.7" height="9.3" fill="#dbdbdb"/>
<rect x="147.0" y="61.7" width="20.7" height="9.3" fill="#ededed"/>
<rect x="167.1" y="61.7" width="40.9" height="9.3" fill="#dbdbdb"/>
<rect x="207.4" y="61.7" width="40.9" height="9.3" fill="#ededed"/>
<rect x="247.6" y="61.7" width="20.7" height="9.3" fill="#a4a4a4"/>
<rect x="267.8" y="61.7" width="40.9" height="9.3" fill="#b6b6b6"/>
<rect x="308.0" y="61.7" width="121.3" height="9.3" fill="#a4a4a4"/>
<rect x="428.8" y="61.7" width="20.7" height="9.3" fill="#b6b6b6"/>
<rect x="448.9" y="61.7" width="20.7" height="9.3" fill="#a4a4a4"/>
<rect x="469.0" y="61.7" width="20.7" height="9.3" fill="#929292"/>
<rect x="489.1" y="61.7" width="20.7" height="9.3" fill="#a4a4a4"/>
<rect x="509.2" y="61.7" width="20.7" height="9.3" fill="#b6b6b6"/>
<rect x="529.4" y="61.7" width="61.0" height="9.3" fill="#a4a4a4"/>
<rect x="26.2" y="70.4" width="61.0" height="9.3" fill="#a4a4a4"/>
<rect x="86.6" y="70.4" width="20.7" height="9.3" fill="#808080"/>
<rect x="106.8" y="70.4" width="20.7" height="9.3" fill="#c8c8c8"/>
<rect x="126.9" y="70.4" width="20.7" height="9.3" fill="#dbdbdb"/>
<rect x="147.0" y="70.4" width="20.7" height="9.3" fill="#ededed"/>
<rect x="167.1" y="70.4" width="40.9" height="9.3" fill="#dbdbdb"/>
<rect x="207.4" y="70.4" width="40.9" height="9.3" fill="#ededed"/>
<rect x="247.6" y="70.4" width="20.7" height="9.3" fill="#a4a4a4"/>
<rect x="267.8" y="70.4" width="40.9" height="9.3" fill="#b6b6b6"/>
<rect x="308.0" y="70.4" width="121.3" height="9.3" fill="#a4a4a4"/>
<rect x="428.8" y="70.4" width="20.7" height="9.3" fill="#b6b6b6"/>
<rect x="448.9" y="70.4" width="20.7" height="9.3" fill="#a4a4a4"/>
<rect x="469.0" y="70.4" width="20.7" height="9.3" fill="#929292"/>
<rect x="489.1" y="70.4" width="20.7" height="9.3" fill="#a4a4a4"/>
<rect x="509.2" y="70.4" width="20.7" height="9.3" fill="#b6b6b6"/>
<rect x="529.4" y="70.4" width="61.0" height="9.3" fill="#a4a4a4"/>
<rect x="26.2" y="79.1" width="81.1" height="9.3" fill="#929292"/>
<rect x="106.8" y="79.1" width="20.7" height="9.3" fill="#b6b6b6"/>
<rect x="126.9" y="79.1" width="20.7" height="9.3" fill="#c8c8c8"/>
<rect x="147.0" y="79.1" width="61.0" height="9.3" fill="#dbdbdb"/>
<rect x="207.4" y="79.1" width="20.7" height="9.3" fill="#c8c8c8"/>
<rect x="227.5" y="79.1" width="40.9" height="9.3" fill="#a4a4a4"/>
<rect x="267.8" y="79.1" width="20.7" height="9.3" fill="#929292"/>
<rect x="287.9" y="79.1" width="20.7" height="9.3" fill="#a4a4a4"/>
<rect x="308.0" y="79.1" width="20.7" height="9.3" fill="#929292"/>
<rect x="328.1" y="79.1" width="40.9" height="9.3" fill="#a4a4a4"/>
<rect x="368.4" y="79.1" width="20.7" height="9.3" fill="#b6b6b6"/>
<rect x="388.5" y="79.1" width="20.7" height="9.3" fill="#929292"/>
<rect x="408.6" y="79.1" width="20.7" height="9.3" fill="#808080"/>
<rect x="428.8" y="79.1" width="20.7" height="9.3" fill="#6d6d6d"/>
<rect x="448.9" y="79.1" width="20.7" height="9.3" fill="#808080"/>
<rect x="469.0" y="79.1" width="40.9" height="9.3" fill="#a4a4a4"/>
<rect x="509.2" y="79.1" width="20.7" height="9.3" fill="#b6b6b6"/>
<rect x="529.4" y="79.1" width="61.0" height="9.3" fill="#c8c8c8"/>
<rect x="26.2" y="87.8" width="61.0" height="9.3" fill="#6d6d6d"/>
<rect x="86.6" y="87.8" width="20.7" height="9.3" fill="#a4a4a4"/>
<rect x="106.8" y="87.8" width="61.0" height="9.3" fill="#c8c8c8"/>
<rect x="167.1" y="87.8" width="40.9" height="9.3" fill="#b6b6b6"/>
<rect x="207.4" y="87.8" width="20.7" height="9.3" fill="#a4a4a4"/>
<rect x="227.5" y="87.8" width="20.7" height="9.3" fill="#808080"/>
<rect x="247.6" y="87.8" width="40.9" height="9.3" fill="#6d6d6d"/>
<rect x="287.9" y="87.8" width="61.0" height="9.3" fill="#5b5b5b"/>
<rect x="348.2" y="87.8" width="20.7" height="9.3" fill="#6d6d6d"/>
<rect x="368.4" y="87.8" width="20.7" height="9.3" fill="#808080"/>
<rect x="388.5" y="87.8" width="40.9" height="9.3" fill="#929292"/>
<rect x="428.8" y="87.8" width="40.9" height="9.3" fill="#b6b6b6"/>
<rect x="469.0" y="87.8" width="20.7" height="9.3" fill="#a4a4a4"/>
<rect x="489.1" y="87.8" width="20.7" height="9.3" fill="#6d6d6d"/>
<rect x="509.2" y="87.8" width="81.1" height="9.3" fill="#808080"/>
<rect x="26.2" y="96.5" width="61.0" height="9.3" fill="#5b5b5b"/>
<rect x="86.6" y="96.5" width="20.7" height="9.3" fill="#929292"/>
<rect x="106.8" y="96.5" width="20.7" height="9.3" fill="#b6b6b6"/>
<rect x="126.9" y="96.5" width="40.9" height="9.3" fill="#c8c8c8"/>
<rect x="167.1" y="96.5" width="20.7" height="9.3" fill="#b6b6b6"/>
<rect x="187.2" y="96.5" width="20.7" height="9.3" fill="#a4a4a4"/>
<rect x="207.4" y="96.5" width="20.7" height="9.3" fill="#808080"/>
<rect x="227.5" y="96.5" width="61.0" height="9.3" fill="#5b5b5b"/>
<rect x="287.9" y="96.5" width="20.7" height="9.3" fill="#494949"/>
<rect x="308.0" y="96.5" width="40.9" height="9.3" fill="#373737"/>
<rect x="348.2" y="96.5" width="20.7" height="9.3" fill="#494949"/>
<rect x="368.4" y="96.5" width="20.7" height="9.3" fill="#373737"/>
<rect x="388.5" y="96.5" width="40.9" height="9.3" fill="#5b5b5b"/>
<rect x="428.8" y="96.5" width="20.7" height="9.3" fill="#a4a4a4"/>
<rect x="448.9" y="96.5" width="20.7" height="9.3" fill="#b6b6b6"/>
<rect x="469.0" y="96.5" width="20.7" height="9.3" fill="#a4a4a4"/>
<rect x="489.1" y="96.5" width="101.2" height="9.3" fill="#808080"/>
<rect x="26.2" y="105.2" width="61.0" height="9.3" fill="#373737"/>
<rect x="86.6" y="105.2" width="20.7" height="9.3" fill="#494949"/>
<rect x="106.8" y="105.2" width="20.7" height="9.3" fill="#808080"/>
<rect x="126.9" y="105.2" width="20.7" height="9.3" fill="#a4a4a4"/>
<rect x="147.0" y="105.2" width="40.9" height="9.3" fill="#929292"/>
<rect x="187.2" y="105.2" width="20.7" height="9.3" fill="#808080"/>
<rect x="207.4" y="105.2" width="40.9" height="9.3" fill="#6d6d6d"/>
<rect x="247.6" y="105.2" width="20.7" height="9.3" fill="#494949"/>
<rect x="267.8" y="105.2" width="40.9" height="9.3" fill="#373737"/>
<rect x="308.0" y="105.2" width="20.7" height="9.3" fill="#242424"/>
<rect x="328.1" y="105.2" width="20.7" height="9.3" fill="#373737"/>
<rect x="348.2" y="105.2" width="61.0" height="9.3" fill="#242424"/>
<rect x="408.6" y="105.2" width="40.9" height="9.3" fill="#373737"/>
<rect x="448.9" y="105.2" width="20.7" height="9.3" fill="#242424"/>
<rect x="469.0" y="105.2" width="20.7" height="9.3" fill="#494949"/>
<rect x="489.1" y="105.2" width="40.9" height="9.3" fill="#a4a4a4"/>
<rect x="529.4" y="105.2" width="61.0" height="9.3" fill="#929292"/>
<rect x="26.2" y="113.9" width="81.1" height="9.3" fill="#242424"/>
<rect x="106.8" y="113.9" width="20.7" height="9.3" fill="#373737"/>
<rect x="126.9" y="113.9" width="20.7" height="9.3" fill="#808080"/>
<rect x="147.0" y="113.9" width="40.9" height="9.3" fill="#929292"/>
<rect x="187.2" y="113.9" width="20.7" height="9.3" fill="#5b5b5b"/>
<rect x="207.4" y="113.9" width="20.7" height="9.3" fill="#494949"/>
<rect x="227.5" y="113.9" width="20.7" height="9.3" fill="#373737"/>
<rect x="247.6" y="113.9" width="101.2" height="9.3" fill="#242424"/>
<rect x="348.2" y="113.9" width="20.7" height="9.3" fill="#373737"/>
<rect x="368.4" y="113.9" width="20.7" height="9.3" fill="#242424"/>
<rect x="388.5" y="113.9" width="40.9" height="9.3" fill="#373737"/>
<rect x="428.8" y="113.9" width="61.0" height="9.3" fill="#242424"/>
<rect x="489.1" y="113.9" width="20.7" height="9.3" fill="#808080"/>
<rect x="509.2" y="113.9" width="20.7" height="9.3" fill="#929292"/>
<rect x="529.4" y="113.9" width="61.0" height="9.3" fill="#808080"/>
<rect x="26.2" y="122.6" width="81.1" height="9.3" fill="#242424"/>
<rect x="106.8" y="122.6" width="20.7" height="9.3" fill="#373737"/>
<rect x="126.9" y="122.6" width="20.7" height="9.3" fill="#808080"/>
<rect x="147.0" y="122.6" width="40.9" height="9.3" fill="#929292"/>
<rect x="187.2" y="122.6" width="20.7" height="9.3" fill="#494949"/>
<rect x="207.4" y="122.6" width="20.7" height="9.3" fill="#373737"/>
<rect x="227.5" y="122.6" width="20.7" height="9.3" fill="#494949"/>
<rect x="247.6" y="122.6" width="20.7" height="9.3" fill="#373737"/>
<rect x="267.8" y="122.6" width="20.7" height="9.3" fill="#494949"/>
<rect x="287.9" y="122.6" width="20.7" height="9.3" fill="#373737"/>
<rect x="308.0" y="122.6" width="40.9" height="9.3" fill="#242424"/>
<rect x="348.2" y="122.6" width="20.7" height="9.3" fill="#373737"/>
<rect x="368.4" y="122.6" width="40.9" height="9.3" fill="#494949"/>
<rect x="408.6" y="122.6" width="81.1" height="9.3" fill="#373737"/>
<rect x="489.1" y="122.6" width="20.7" height="9.3" fill="#494949"/>
<rect x="509.2" y="122.6" width="20.7" height="9.3" fill="#5b5b5b"/>
<rect x="529.4" y="122.6" width="61.0" height="9.3" fill="#494949"/>
<rect x="26.2" y="131.3" width="81.1" height="9.3" fill="#242424"/>
<rect x="106.8" y="131.3" width="20.7" height="9.3" fill="#373737"/>
<rect x="126.9" y="131.3" width="20.7" height="9.3" fill="#808080"/>
<rect x="147.0" y="131.3" width="40.9" height="9.3" fill="#929292"/>
<rect x="187.2" y="131.3" width="20.7" height="9.3" fill="#494949"/>
<rect x="207.4" y="131.3" width="20.7" height="9.3" fill="#373737"/>
<rect x="227.5" y="131.3" width="20.7" height="9.3" fill="#494949"/>
<rect x="247.6" y="131.3" width="20.7" height="9.3" fill="#373737"/>
<rect x="267.8" y="131.3" width="20.7" height="9.3" fill="#494949"/>
<rect x="287.9" y="131.3" width="61.0" height="9.3" fill="#242424"/>
<rect x="348.2" y="131.3" width="20.7" height="9.3" fill="#373737"/>
<rect x="368.4" y="131.3" width="20.7" height="9.3" fill="#494949"/>
<rect x="388.5" y="131.3" width="40.9" height="9.3" fill="#6d6d6d"/>
<rect x="428.8" y="131.3" width="40.9" height="9.3" fill="#494949"/>
<rect x="469.0" y="131.3" width="20.7" height="9.3" fill="#373737"/>
<rect x="489.1" y="131.3" width="101.2" height="9.3" fill="#242424"/>
<rect x="26.2" y="140.0" width="81.1" height="9.3" fill="#242424"/>
<rect x="106.8" y="140.0" width="20.7" height="9.3" fill="#373737"/>
<rect x="126.9" y="140.0" width="20.7" height="9.3" fill="#808080"/>
<rect x="147.0" y="140.0" width="40.9" height="9.3" fill="#929292"/>
<rect x="187.2" y="140.0" width="20.7" height="9.3" fill="#494949"/>
<rect x="207.4" y="140.0" width="20.7" height="9.3" fill="#373737"/>
<rect x="227.5" y="140.0" width="20.7" height="9.3" fill="#494949"/>
<rect x="247.6" y="140.0" width="20.7" height="9.3" fill="#373737"/>
<rect x="267.8" y="140.0" width="20.7" height="9.3" fill="#494949"/>
<rect x="287.9" y="140.0" width="61.0" height="9.3" fill="#242424"/>
<rect x="348.2" y="140.0" width="20.7" height="9.3" fill="#373737"/>
<rect x="368.4" y="140.0" width="20.7" height="9.3" fill="#494949"/>
<rect x="388.5" y="140.0" width="40.9" height="9.3" fill="#6d6d6d"/>
<rect x="428.8" y="140.0" width="61.0" height="9.3" fill="#494949"/>
<rect x="489.1" y="140.0" width="101.2" height="9.3" fill="#242424"/>
<rect x="26.2" y="148.7" width="81.1" height="9.3" fill="#242424"/>
<rect x="106.8" y="148.7" width="20.7" height="9.3" fill="#373737"/>
<rect x="126.9" y="148.7" width="20.7" height="9.3" fill="#808080"/>
<rect x="147.0" y="148.7" width="40.9" height="9.3" fill="#929292"/>
<rect x="187.2" y="148.7" width="20.7" height="9.3" fill="#494949"/>
<rect x="207.4" y="148.7" width="20.7" height="9.3" fill="#373737"/>
<rect x="227.5" y="148.7" width="20.7" height="9.3" fill="#494949"/>
<rect x="247.6" y="148.7" width="20.7" height="9.3" fill="#373737"/>
<rect x="267.8" y="148.7" width="20.7" height="9.3" fill="#494949"/>
<rect x="287.9" y="148.7" width="61.0" height="9.3" fill="#242424"/>
<rect x="348.2" y="148.7" width="20.7" height="9.3" fill="#373737"/>
<rect x="368.4" y="148.7" width="20.7" height="9.3" fill="#494949"/>
<rect x="388.5" y="148.7" width="40.9" height="9.3" fill="#6d6d6d"/>
<rect x="428.8" y="148.7" width="61.0" height="9.3" fill="#494949"/>
<rect x="489.1" y="148.7" width="101.2" height="9.3" fill="#242424"/>
<rect x="26.2" y="157.4" width="81.1" height="9.3" fill="#242424"/>
<rect x="106.8" y="157.4" width="20.7" height="9.3" fill="#373737"/>
<rect x="126.9" y="157.4" width="20.7" height="9.3" fill="#808080"/>
<rect x="147.0" y="157.4" width="40.9" height="9.3" fill="#929292"/>
<rect x="187.2" y="157.4" width="20.7" height="9.3" fill="#494949"/>
<rect x="207.4" y="157.4" width="20.7" height="9.3" fill="#373737"/>
<rect x="227.5" y="157.4" width="20.7" height="9.3" fill="#494949"/>
<rect x="247.6" y="157.4" width="20.7" height="9.3" fill="#373737"/>
<rect x="267.8" y="157.4" width="20.7" height="9.3" fill="#494949"/>
<rect x="287.9" y="157.4" width="61.0" height="9.3" fill="#242424"/>
<rect x="348.2" y="157.4" width="20.7" height="9.3" fill="#373737"/>
<rect x="368.4" y="157.4" width="20.7" height="9.3" fill="#494949"/>
<rect x="388.5" y="157.4" width="40.9" height="9.3" fill="#6d6d6d"/>
<rect x="428.8" y="157.4" width="61.0" height="9.3" fill="#494949"/>
<rect x="489.1" y="157.4" width="101.2" height="9.3" fill="#242424"/>
<rect x="26.2" y="166.1" width="81.1" height="9.3" fill="#242424"/>
<rect x="106.8" y="166.1" width="20.7" height="9.3" fill="#373737"/>
<rect x="126.9" y="166.1" width="20.7" height="9.3" fill="#808080"/>
<rect x="147.0" y="166.1" width="40.9" height="9.3" fill="#929292"/>
<rect x="187.2" y="166.1" width="20.7" height="9.3" fill="#494949"/>
<rect x="207.4" y="166.1" width="20.7" height="9.3" fill="#373737"/>
<rect x="227.5" y="166.1" width="20.7" height="9.3" fill="#494949"/>
<rect x="247.6" y="166.1" width="20.7" height="9.3" fill="#373737"/>
<rect x="267.8" y="166.1" width="20.7" height="9.3" fill="#494949"/>
<rect x="287.9" y="166.1" width="61.0" height="9.3" fill="#242424"/>
<rect x="348.2" y="166.1" width="20.7" height="9.3" fill="#373737"/>
<rect x="368.4" y="166.1" width="20.7" height="9.3" fill="#494949"/>
<rect x="388.5" y="166.1" width="40.9" height="9.3" fill="#6d6d6d"/>
<rect x="428.8" y="166.1" width="61.0" height="9.3" fill="#494949"/>
<rect x="489.1" y="166.1" width="101.2" height="9.3" fill="#242424"/>
<rect x="26.2" y="174.8" width="81.1" height="9.3" fill="#242424"/>
<rect x="106.8" y="174.8" width="20.7" height="9.3" fill="#373737"/>
<rect x="126.9" y="174.8" width="20.7" height="9.3" fill="#808080"/>
<rect x="147.0" y="174.8" width="40.9" height="9.3" fill="#929292"/>
<rect x="187.2" y="174.8" width="20.7" height="9.3" fill="#494949"/>
<rect x="207.4" y="174.8" width="20.7" height="9.3" fill="#373737"/>
<rect x="227.5" y="174.8" width="20.7" height="9.3" fill="#494949"/>
<rect x="247.6" y="174.8" width="20.7" height="9.3" fill="#373737"/>
<rect x="267.8" y="174.8" width="20.7" height="9.3" fill="#494949"/>
<rect x="287.9" y="174.8" width="61.0" height="9.3" fill="#242424"/>
<rect x="348.2" y="174.8" width="20.7" height="9.3" fill="#373737"/>
<rect x="368.4" y="174.8" width="20.7" height="9.3" fill="#494949"/>
<rect x="388.5" y="174.8" width="40.9" height="9.3" fill="#6d6d6d"/>
<rect x="428.8" y="174.8" width="61.0" height="9.3" fill="#494949"/>
<rect x="489.1" y="174.8" width="101.2" height="9.3" fill="#242424"/>
<rect x="26.2" y="183.5" width="81.1" height="9.3" fill="#242424"/>
<rect x="106.8" y="183.5" width="20.7" height="9.3" fill="#373737"/>
<rect x="126.9" y="183.5" width="20.7" height="9.3" fill="#808080"/>
<rect x="147.0" y="183.5" width="40.9" height="9.3" fill="#929292"/>
<rect x="187.2" y="183.5" width="20.7" height="9.3" fill="#494949"/>
<rect x="207.4" y="183.5" width="20.7" height="9.3" fill="#373737"/>
<rect x="227.5" y="183.5" width="20.7" height="9.3" fill="#494949"/>
<rect x="247.6" y="183.5" width="20.7" height="9.3" fill="#373737"/>
<rect x="267.8" y="183.5" width="20.7" height="9.3" fill="#494949"/>
<rect x="287.9" y="183.5" width="61.0" height="9.3" fill="#242424"/>
<rect x="348.2" y="183.5" width="20.7" height="9.3" fill="#373737"/>
<rect x="368.4" y="183.5" width="20.7" height="9.3" fill="#494949"/>
<rect x="388.5" y="183.5" width="40.9" height="9.3" fill="#6d6d6d"/>
<rect x="428.8" y="183.5" width="61.0" height="9.3" fill="#494949"/>
<rect x="489.1" y="183.5" width="101.2" height="9.3" fill="#242424"/>
<rect x="26.2" y="192.2" width="81.1" height="9.3" fill="#242424"/>
<rect x="106.8" y="192.2" width="20.7" height="9.3" fill="#373737"/>
<rect x="126.9" y="192.2" width="20.7" height="9.3" fill="#808080"/>
<rect x="147.0" y="192.2" width="40.9" height="9.3" fill="#929292"/>
<rect x="187.2" y="192.2" width="20.7" height="9.3" fill="#494949"/>
<rect x="207.4" y="192.2" width="20.7" height="9.3" fill="#373737"/>
<rect x="227.5" y="192.2" width="20.7" height="9.3" fill="#494949"/>
<rect x="247.6" y="192.2" width="20.7" height="9.3" fill="#373737"/>
<rect x="267.8" y="192.2" width="20.7" height="9.3" fill="#494949"/>
<rect x="287.9" y="192.2" width="61.0" height="9.3" fill="#242424"/>
<rect x="348.2" y="192.2" width="20.7" height="9.3" fill="#373737"/>
<rect x="368.4" y="192.2" width="20.7" height="9.3" fill="#494949"/>
<rect x="388.5" y="192.2" width="40.9" height="9.3" fill="#6d6d6d"/>
<rect x="428.8" y="192.2" width="61.0" height="9.3" fill="#494949"/>
<rect x="489.1" y="192.2" width="101.2" height="9.3" fill="#242424"/>
<rect x="26.2" y="200.9" width="81.1" height="9.3" fill="#242424"/>
<rect x="106.8" y="200.9" width="20.7" height="9.3" fill="#373737"/>
<rect x="126.9" y="200.9" width="20.7" height="9.3" fill="#808080"/>
<rect x="147.0" y="200.9" width="40.9" height="9.3" fill="#929292"/>
<rect x="187.2" y="200.9" width="20.7" height="9.3" fill="#494949"/>
<rect x="207.4" y="200.9" width="20.7" height="9.3" fill="#373737"/>
<rect x="227.5" y="200.9" width="20.7" height="9.3" fill="#494949"/>
<rect x="247.6" y="200.9" width="20.7" height="9.3" fill="#373737"/>
<rect x="267.8" y="200.9" width="20.7" height="9.3" fill="#494949"/>
<rect x="287.9" y="200.9" width="61.0" height="9.3" fill="#242424"/>
<rect x="348.2" y="200.9" width="20.7" height="9.3" fill="#373737"/>
<rect x="368.4" y="200.9" width="20.7" height="9.3" fill="#494949"/>
<rect x="388.5" y="200.9" width="40.9" height="9.3" fill="#6d6d6d"/>
<rect x="428.8" y="200.9" width="61.0" height="9.3" fill="#494949"/>
<rect x="489.1" y="200.9" width="101.2" height="9.3" fill="#242424"/>
<rect x="26.2" y="209.6" width="81.1" height="9.3" fill="#242424"/>
<rect x="106.8" y="209.6" width="20.7" height="9.3" fill="#373737"/>
<rect x="126.9" y="209.6" width="20.7" height="9.3" fill="#808080"/>
<rect x="147.0" y="209.6" width="40.9" height="9.3" fill="#929292"/>
<rect x="187.2" y="209.6" width="20.7" height="9.3" fill="#494949"/>
<rect x="207.4" y="209.6" width="20.7" height="9.3" fill="#373737"/>
<rect x="227.5" y="209.6" width="20.7" height="9.3" fill="#494949"/>
<rect x="247.6" y="209.6" width="20.7" height="9.3" fill="#373737"/>
<rect x="267.8" y="209.6" width="20.7" height="9.3" fill="#494949"/>
<rect x="287.9" y="209.6" width="61.0" height="9.3" fill="#242424"/>
<rect x="348.2" y="209.6" width="20.7" height="9.3" fill="#373737"/>
<rect x="368.4" y="209.6" width="20.7" height="9.3" fill="#494949"/>
<rect x="388.5" y="209.6" width="40.9" height="9.3" fill="#6d6d6d"/>
<rect x="428.8" y="209.6" width="61.0" height="9.3" fill="#494949"/>
<rect x="489.1" y="209.6" width="101.2" height="9.3" fill="#242424"/>
<rect x="26.2" y="218.3" width="81.1" height="9.3" fill="#242424"/>
<rect x="106.8" y="218.3" width="20.7" height="9.3" fill="#373737"/>
<rect x="126.9" y="218.3" width="20.7" height="9.3" fill="#808080"/>
<rect x="147.0" y="218.3" width="40.9" height="9.3" fill="#929292"/>
<rect x="187.2" y="218.3" width="20.7" height="9.3" fill="#494949"/>
<rect x="207.4" y="218.3" width="20.7" height="9.3" fill="#373737"/>
<rect x="227.5" y="218.3" width="20.7" height="9.3" fill="#494949"/>
<rect x="247.6" y="218.3" width="20.7" height="9.3" fill="#373737"/>
<rect x="267.8" y="218.3" width="20.7" height="9.3" fill="#494949"/>
<rect x="287.9" y="218.3" width="61.0" height="9.3" fill="#242424"/>
<rect x="348.2" y="218.3" width="20.7" height="9.3" fill="#373737"/>
<rect x="368.4" y="218.3" width="20.7" height="9.3" fill="#494949"/>
<rect x="388.5" y="218.3" width="40.9" height="9.3" fill="#6d6d6d"/>
<rect x="428.8" y="218.3" width="61.0" height="9.3" fill="#494949"/>
<rect x="489.1" y="218.3" width="101.2" height="9.3" fill="#242424"/>
<rect x="26.2" y="227.0" width="81.1" height="9.3" fill="#242424"/>
<rect x="106.8" y="227.0" width="20.7" height="9.3" fill="#373737"/>
<rect x="126.9" y="227.0" width="20.7" height="9.3" fill="#808080"/>
<rect x="147.0" y="227.0" width="40.9" height="9.3" fill="#929292"/>
<rect x="187.2" y="227.0" width="20.7" height="9.3" fill="#494949"/>
<rect x="207.4" y="227.0" width="20.7" height="9.3" fill="#373737"/>
<rect x="227.5" y="227.0" width="20.7" height="9.3" fill="#494949"/>
<rect x="247.6" y="227.0" width="20.7" height="9.3" fill="#373737"/>
<rect x="267.8" y="227.0" width="20.7" height="9.3" fill="#494949"/>
<rect x="287.9" y="227.0" width="61.0" height="9.3" fill="#242424"/>
<rect x="348.2" y="227.0" width="20.7" height="9.3" fill="#373737"/>
<rect x="368.4" y="227.0" width="20.7" height="9.3" fill="#494949"/>
<rect x="388.5" y="227.0" width="40.9" height="9.3" fill="#6d6d6d"/>
<rect x="428.8" y="227.0" width="61.0" height="9.3" fill="#494949"/>
<rect x="489.1" y="227.0" width="101.2" height="9.3" fill="#242424"/>
<rect x="26.2" y="235.7" width="81.1" height="9.3" fill="#242424"/>
<rect x="106.8" y="235.7" width="20.7" height="9.3" fill="#373737"/>
<rect x="126.9" y="235.7" width="20.7" height="9.3" fill="#808080"/>
<rect x="147.0" y="235.7" width="40.9" height="9.3" fill="#929292"/>
<rect x="187.2" y="235.7" width="20.7" height="9.3" fill="#494949"/>
<rect x="207.4" y="235.7" width="20.7" height="9.3" fill="#373737"/>
<rect x="227.5" y="235.7" width="20.7" height="9.3" fill="#494949"/>
<rect x="247.6" y="235.7" width="20.7" height="9.3" fill="#373737"/>
<rect x="267.8" y="235.7" width="20.7" height="9.3" fill="#494949"/>
<rect x="287.9" y="235.7" width="61.0" height="9.3" fill="#242424"/>
<rect x="348.2" y="235.7" width="20.7" height="9.3" fill="#373737"/>
<rect x="368.4" y="235.7" width="20.7" height="9.3" fill="#494949"/>
<rect x="388.5" y="235.7" width="40.9" height="9.3" fill="#6d6d6d"/>
<rect x="428.8" y="235.7" width="61.0" height="9.3" fill="#494949"/>
<rect x="489.1" y="235.7" width="101.2" height="9.3" fill="#242424"/>
<rect x="26.2" y="244.4" width="81.1" height="9.3" fill="#242424"/>
<rect x="106.8" y="244.4" width="20.7" height="9.3" fill="#373737"/>
<rect x="126.9" y="244.4" width="20.7" height="9.3" fill="#808080"/>
<rect x="147.0" y="244.4" width="40.9" height="9.3" fill="#929292"/>
<rect x="187.2" y="244.4" width="20.7" height="9.3" fill="#494949"/>
<rect x="207.4" y="244.4" width="20.7" height="9.3" fill="#373737"/>
<rect x="227.5" y="244.4" width="20.7" height="9.3" fill="#494949"/>
<rect x="247.6" y="244.4" width="20.7" height="9.3" fill="#373737"/>
<rect x="267.8" y="244.4" width="20.7" height="9.3" fill="#494949"/>
<rect x="287.9" y="244.4" width="61.0" height="9.3" fill="#242424"/>
<rect x="348.2" y="244.4" width="20.7" height="9.3" fill="#373737"/>
<rect x="368.4" y="244.4" width="20.7" height="9.3" fill="#494949"/>
<rect x="388.5" y="244.4" width="40.9" height="9.3" fill="#6d6d6d"/>
<rect x="428.8" y="244.4" width="61.0" height="9.3" fill="#494949"/>
<rect x="489.1" y="244.4" width="101.2" height="9.3" fill="#242424"/>
<rect x="26.2" y="253.1" width="81.1" height="9.3" fill="#242424"/>
<rect x="106.8" y="253.1" width="20.7" height="9.3" fill="#373737"/>
<rect x="126.9" y="253.1" width="20.7" height="9.3" fill="#808080"/>
<rect x="147.0" y="253.1" width="40.9" height="9.3" fill="#929292"/>
<rect x="187.2" y="253.1" width="20.7" height="9.3" fill="#494949"/>
<rect x="207.4" y="253.1" width="20.7" height="9.3" fill="#373737"/>
<rect x="227.5" y="253.1" width="20.7" height="9.3" fill="#494949"/>
<rect x="247.6" y="253.1" width="20.7" height="9.3" fill="#373737"/>
<rect x="267.8" y="253.1" width="20.7" height="9.3" fill="#494949"/>
<rect x="287.9" y="253.1" width="61.0" height="9.3" fill="#242424"/>
<rect x="348.2" y="253.1" width="20.7" height="9.3" fill="#373737"/>
<rect x="368.4" y="253.1" width="20.7" height="9.3" fill="#494949"/>
<rect x="388.5" y="253.1" width="40.9" height="9.3" fill="#6d6d6d"/>
<rect x="428.8" y="253.1" width="61.0" height="9.3" fill="#494949"/>
<rect x="489.1" y="253.1" width="101.2" height="9.3" fill="#242424"/>
<rect x="26.2" y="261.8" width="81.1" height="9.3" fill="#242424"/>
<rect x="106.8" y="261.8" width="20.7" height="9.3" fill="#373737"/>
<rect x="126.9" y="261.8" width="20.7" height="9.3" fill="#808080"/>
<rect x="147.0" y="261.8" width="40.9" height="9.3" fill="#929292"/>
<rect x="187.2" y="261.8" width="20.7" height="9.3" fill="#494949"/>
<rect x="207.4" y="261.8" width="20.7" height="9.3" fill="#373737"/>
<rect x="227.5" y="261.8" width="20.7" height="9.3" fill="#494949"/>
<rect x="247.6" y="261.8" width="20.7" height="9.3" fill="#373737"/>
<rect x="267.8" y="261.8" width="20.7" height="9.3" fill="#494949"/>
<rect x="287.9" y="261.8" width="61.0" height="9.3" fill="#242424"/>
<rect x="348.2" y="261.8" width="20.7" height="9.3" fill="#373737"/>
<rect x="368.4" y="261.8" width="20.7" height="9.3" fill="#494949"/>
<rect x="388.5" y="261.8" width="40.9" height="9.3" fill="#6d6d6d"/>
<rect x="428.8" y="261.8" width="61.0" height="9.3" fill="#494949"/>
<rect x="489.1" y="261.8" width="101.2" height="9.3" fill="#242424"/>
<rect x="26.2" y="270.5" width="81.1" height="9.3" fill="#242424"/>
<rect x="106.8" y="270.5" width="20.7" height="9.3" fill="#373737"/>
<rect x="126.9" y="270.5" width="20.7" height="9.3" fill="#808080"/>
<rect x="147.0" y="270.5" width="40.9" height="9.3" fill="#929292"/>
<rect x="187.2" y="270.5" width="20.7" height="9.3" fill="#494949"/>
<rect x="207.4" y="270.5" width="20.7" height="9.3" fill="#373737"/>
<rect x="227.5" y="270.5" width="20.7" height="9.3" fill="#494949"/>
<rect x="247.6" y="270.5" width="20.7" height="9.3" fill="#373737"/>
<rect x="267.8" y="270.5" width="20.7" height="9.3" fill="#494949"/>
<rect x="287.9" y="270.5" width="61.0" height="9.3" fill="#242424"/>
<rect x="348.2" y="270.5" width="20.7" height="9.3" fill="#373737"/>
<rect x="368.4" y="270.5" width="20.7" height="9.3" fill="#494949"/>
<rect x="388.5" y="270.5" width="40.9" height="9.3" fill="#6d6d6d"/>
<rect x="428.8" y="270.5" width="61.0" height="9.3" fill="#494949"/>
<rect x="489.1" y="270.5" width="101.2" height="9.3" fill="#242424"/>
<rect x="26.2" y="279.2" width="81.1" height="9.3" fill="#242424"/>
<rect x="106.8" y="279.2" width="20.7" height="9.3" fill="#373737"/>
<rect x="126.9" y="279.2" width="20.7" height="9.3" fill="#808080"/>
<rect x="147.0" y="279.2" width="40.9" height="9.3" fill="#929292"/>
<rect x="187.2" y="279.2" width="20.7" height="9.3" fill="#494949"/>
<rect x="207.4" y="279.2" width="20.7" height="9.3" fill="#373737"/>
<rect x="227.5" y="279.2" width="20.7" height="9.3" fill="#494949"/>
<rect x="247.6" y="279.2" width="20.7" height="9.3" fill="#373737"/>
<rect x="267.8" y="279.2" width="20.7" height="9.3" fill="#494949"/>
<rect x="287.9" y="279.2" width="61.0" height="9.3" fill="#242424"/>
<rect x="348.2" y="279.2" width="20.7" height="9.3" fill="#373737"/>
<rect x="368.4" y="279.2" width="20.7" height="9.3" fill="#494949"/>
<rect x="388.5" y="279.2" width="40.9" height="9.3" fill="#6d6d6d"/>
<rect x="428.8" y="279.2" width="61.0" height="9.3" fill="#494949"/>
<rect x="489.1" y="279.2" width="101.2" height="9.3" fill="#242424"/>
</g></g>
<g clip-path="url(#z2)"><g filter="url(#bl)">
<rect x="26.2" y="-7.9" width="61.0" height="9.3" fill="#494949"/>
<rect x="86.6" y="-7.9" width="61.0" height="9.3" fill="#5b5b5b"/>
<rect x="147.0" y="-7.9" width="40.9" height="9.3" fill="#494949"/>
<rect x="187.2" y="-7.9" width="101.2" height="9.3" fill="#373737"/>
<rect x="287.9" y="-7.9" width="61.0" height="9.3" fill="#242424"/>
<rect x="348.2" y="-7.9" width="81.1" height="9.3" fill="#373737"/>
<rect x="428.8" y="-7.9" width="20.7" height="9.3" fill="#494949"/>
<rect x="448.9" y="-7.9" width="20.7" height="9.3" fill="#373737"/>
<rect x="469.0" y="-7.9" width="20.7" height="9.3" fill="#494949"/>
<rect x="489.1" y="-7.9" width="40.9" height="9.3" fill="#242424"/>
<rect x="529.4" y="-7.9" width="61.0" height="9.3" fill="#121212"/>
<rect x="26.2" y="0.8" width="61.0" height="9.3" fill="#494949"/>
<rect x="86.6" y="0.8" width="61.0" height="9.3" fill="#5b5b5b"/>
<rect x="147.0" y="0.8" width="40.9" height="9.3" fill="#494949"/>
<rect x="187.2" y="0.8" width="101.2" height="9.3" fill="#373737"/>
<rect x="287.9" y="0.8" width="61.0" height="9.3" fill="#242424"/>
<rect x="348.2" y="0.8" width="81.1" height="9.3" fill="#373737"/>
<rect x="428.8" y="0.8" width="20.7" height="9.3" fill="#494949"/>
<rect x="448.9" y="0.8" width="20.7" height="9.3" fill="#373737"/>
<rect x="469.0" y="0.8" width="20.7" height="9.3" fill="#494949"/>
<rect x="489.1" y="0.8" width="40.9" height="9.3" fill="#242424"/>
<rect x="529.4" y="0.8" width="61.0" height="9.3" fill="#121212"/>
<rect x="26.2" y="9.5" width="61.0" height="9.3" fill="#494949"/>
<rect x="86.6" y="9.5" width="61.0" height="9.3" fill="#5b5b5b"/>
<rect x="147.0" y="9.5" width="40.9" height="9.3" fill="#494949"/>
<rect x="187.2" y="9.5" width="101.2" height="9.3" fill="#373737"/>
<rect x="287.9" y="9.5" width="61.0" height="9.3" fill="#242424"/>
<rect x="348.2" y="9.5" width="81.1" height="9.3" fill="#373737"/>
<rect x="428.8" y="9.5" width="20.7" height="9.3" fill="#494949"/>
<rect x="448.9" y="9.5" width="20.7" height="9.3" fill="#373737"/>
<rect x="469.0" y="9.5" width="20.7" height="9.3" fill="#494949"/>
<rect x="489.1" y="9.5" width="40.9" height="9.3" fill="#242424"/>
<rect x="529.4" y="9.5" width="61.0" height="9.3" fill="#121212"/>
<rect x="26.2" y="18.2" width="61.0" height="9.3" fill="#494949"/>
<rect x="86.6" y="18.2" width="61.0" height="9.3" fill="#5b5b5b"/>
<rect x="147.0" y="18.2" width="40.9" height="9.3" fill="#494949"/>
<rect x="187.2" y="18.2" width="101.2" height="9.3" fill="#373737"/>
<rect x="287.9" y="18.2" width="61.0" height="9.3" fill="#242424"/>
<rect x="348.2" y="18.2" width="81.1" height="9.3" fill="#373737"/>
<rect x="428.8" y="18.2" width="20.7" height="9.3" fill="#494949"/>
<rect x="448.9" y="18.2" width="20.7" height="9.3" fill="#373737"/>
<rect x="469.0" y="18.2" width="20.7" height="9.3" fill="#494949"/>
<rect x="489.1" y="18.2" width="40.9" height="9.3" fill="#242424"/>
<rect x="529.4" y="18.2" width="61.0" height="9.3" fill="#121212"/>
<rect x="26.2" y="26.9" width="61.0" height="9.3" fill="#494949"/>
<rect x="86.6" y="26.9" width="61.0" height="9.3" fill="#5b5b5b"/>
<rect x="147.0" y="26.9" width="40.9" height="9.3" fill="#494949"/>
<rect x="187.2" y="26.9" width="101.2" height="9.3" fill="#373737"/>
<rect x="287.9" y="26.9" width="61.0" height="9.3" fill="#242424"/>
<rect x="348.2" y="26.9" width="81.1" height="9.3" fill="#373737"/>
<rect x="428.8" y="26.9" width="20.7" height="9.3" fill="#494949"/>
<rect x="448.9" y="26.9" width="20.7" height="9.3" fill="#373737"/>
<rect x="469.0" y="26.9" width="20.7" height="9.3" fill="#494949"/>
<rect x="489.1" y="26.9" width="40.9" height="9.3" fill="#242424"/>
<rect x="529.4" y="26.9" width="61.0" height="9.3" fill="#121212"/>
<rect x="26.2" y="35.6" width="61.0" height="9.3" fill="#494949"/>
<rect x="86.6" y="35.6" width="61.0" height="9.3" fill="#5b5b5b"/>
<rect x="147.0" y="35.6" width="40.9" height="9.3" fill="#494949"/>
<rect x="187.2" y="35.6" width="101.2" height="9.3" fill="#373737"/>
<rect x="287.9" y="35.6" width="61.0" height="9.3" fill="#242424"/>
<rect x="348.2" y="35.6" width="81.1" height="9.3" fill="#373737"/>
<rect x="428.8" y="35.6" width="20.7" height="9.3" fill="#494949"/>
<rect x="448.9" y="35.6" width="20.7" height="9.3" fill="#373737"/>
<rect x="469.0" y="35.6" width="20.7" height="9.3" fill="#494949"/>
<rect x="489.1" y="35.6" width="40.9" height="9.3" fill="#242424"/>
<rect x="529.4" y="35.6" width="61.0" height="9.3" fill="#121212"/>
<rect x="26.2" y="44.3" width="61.0" height="9.3" fill="#494949"/>
<rect x="86.6" y="44.3" width="61.0" height="9.3" fill="#5b5b5b"/>
<rect x="147.0" y="44.3" width="40.9" height="9.3" fill="#494949"/>
<rect x="187.2" y="44.3" width="101.2" height="9.3" fill="#373737"/>
<rect x="287.9" y="44.3" width="61.0" height="9.3" fill="#242424"/>
<rect x="348.2" y="44.3" width="81.1" height="9.3" fill="#373737"/>
<rect x="428.8" y="44.3" width="20.7" height="9.3" fill="#494949"/>
<rect x="448.9" y="44.3" width="20.7" height="9.3" fill="#373737"/>
<rect x="469.0" y="44.3" width="20.7" height="9.3" fill="#494949"/>
<rect x="489.1" y="44.3" width="40.9" height="9.3" fill="#242424"/>
<rect x="529.4" y="44.3" width="61.0" height="9.3" fill="#121212"/>
<rect x="26.2" y="53.0" width="61.0" height="9.3" fill="#494949"/>
<rect x="86.6" y="53.0" width="61.0" height="9.3" fill="#5b5b5b"/>
<rect x="147.0" y="53.0" width="40.9" height="9.3" fill="#494949"/>
<rect x="187.2" y="53.0" width="101.2" height="9.3" fill="#373737"/>
<rect x="287.9" y="53.0" width="61.0" height="9.3" fill="#242424"/>
<rect x="348.2" y="53.0" width="81.1" height="9.3" fill="#373737"/>
<rect x="428.8" y="53.0" width="20.7" height="9.3" fill="#494949"/>
<rect x="448.9" y="53.0" width="20.7" height="9.3" fill="#373737"/>
<rect x="469.0" y="53.0" width="20.7" height="9.3" fill="#494949"/>
<rect x="489.1" y="53.0" width="40.9" height="9.3" fill="#242424"/>
<rect x="529.4" y="53.0" width="61.0" height="9.3" fill="#121212"/>
<rect x="26.2" y="61.7" width="61.0" height="9.3" fill="#494949"/>
<rect x="86.6" y="61.7" width="61.0" height="9.3" fill="#5b5b5b"/>
<rect x="147.0" y="61.7" width="40.9" height="9.3" fill="#494949"/>
<rect x="187.2" y="61.7" width="101.2" height="9.3" fill="#373737"/>
<rect x="287.9" y="61.7" width="61.0" height="9.3" fill="#242424"/>
<rect x="348.2" y="61.7" width="81.1" height="9.3" fill="#373737"/>
<rect x="428.8" y="61.7" width="20.7" height="9.3" fill="#494949"/>
<rect x="448.9" y="61.7" width="20.7" height="9.3" fill="#373737"/>
<rect x="469.0" y="61.7" width="20.7" height="9.3" fill="#494949"/>
<rect x="489.1" y="61.7" width="40.9" height="9.3" fill="#242424"/>
<rect x="529.4" y="61.7" width="61.0" height="9.3" fill="#121212"/>
<rect x="26.2" y="70.4" width="61.0" height="9.3" fill="#494949"/>
<rect x="86.6" y="70.4" width="61.0" height="9.3" fill="#5b5b5b"/>
<rect x="147.0" y="70.4" width="40.9" height="9.3" fill="#494949"/>
<rect x="187.2" y="70.4" width="101.2" height="9.3" fill="#373737"/>
<rect x="287.9" y="70.4" width="61.0" height="9.3" fill="#242424"/>
<rect x="348.2" y="70.4" width="81.1" height="9.3" fill="#373737"/>
<rect x="428.8" y="70.4" width="20.7" height="9.3" fill="#494949"/>
<rect x="448.9" y="70.4" width="20.7" height="9.3" fill="#373737"/>
<rect x="469.0" y="70.4" width="20.7" height="9.3" fill="#494949"/>
<rect x="489.1" y="70.4" width="40.9" height="9.3" fill="#242424"/>
<rect x="529.4" y="70.4" width="61.0" height="9.3" fill="#121212"/>
<rect x="26.2" y="79.1" width="61.0" height="9.3" fill="#494949"/>
<rect x="86.6" y="79.1" width="61.0" height="9.3" fill="#5b5b5b"/>
<rect x="147.0" y="79.1" width="40.9" height="9.3" fill="#494949"/>
<rect x="187.2" y="79.1" width="101.2" height="9.3" fill="#373737"/>
<rect x="287.9" y="79.1" width="61.0" height="9.3" fill="#242424"/>
<rect x="348.2" y="79.1" width="81.1" height="9.3" fill="#373737"/>
<rect x="428.8" y="79.1" width="20.7" height="9.3" fill="#494949"/>
<rect x="448.9" y="79.1" width="20.7" height="9.3" fill="#373737"/>
<rect x="469.0" y="79.1" width="20.7" height="9.3" fill="#494949"/>
<rect x="489.1" y="79.1" width="40.9" height="9.3" fill="#242424"/>
<rect x="529.4" y="79.1" width="61.0" height="9.3" fill="#121212"/>
<rect x="26.2" y="87.8" width="61.0" height="9.3" fill="#494949"/>
<rect x="86.6" y="87.8" width="61.0" height="9.3" fill="#5b5b5b"/>
<rect x="147.0" y="87.8" width="40.9" height="9.3" fill="#494949"/>
<rect x="187.2" y="87.8" width="101.2" height="9.3" fill="#373737"/>
<rect x="287.9" y="87.8" width="61.0" height="9.3" fill="#242424"/>
<rect x="348.2" y="87.8" width="81.1" height="9.3" fill="#373737"/>
<rect x="428.8" y="87.8" width="20.7" height="9.3" fill="#494949"/>
<rect x="448.9" y="87.8" width="20.7" height="9.3" fill="#373737"/>
<rect x="469.0" y="87.8" width="20.7" height="9.3" fill="#494949"/>
<rect x="489.1" y="87.8" width="40.9" height="9.3" fill="#242424"/>
<rect x="529.4" y="87.8" width="61.0" height="9.3" fill="#121212"/>
<rect x="26.2" y="96.5" width="61.0" height="9.3" fill="#494949"/>
<rect x="86.6" y="96.5" width="61.0" height="9.3" fill="#5b5b5b"/>
<rect x="147.0" y="96.5" width="40.9" height="9.3" fill="#494949"/>
<rect x="187.2" y="96.5" width="101.2" height="9.3" fill="#373737"/>
<rect x="287.9" y="96.5" width="61.0" height="9.3" fill="#242424"/>
<rect x="348.2" y="96.5" width="81.1" height="9.3" fill="#373737"/>
<rect x="428.8" y="96.5" width="20.7" height="9.3" fill="#494949"/>
<rect x="448.9" y="96.5" width="20.7" height="9.3" fill="#373737"/>
<rect x="469.0" y="96.5" width="20.7" height="9.3" fill="#494949"/>
<rect x="489.1" y="96.5" width="40.9" height="9.3" fill="#242424"/>
<rect x="529.4" y="96.5" width="61.0" height="9.3" fill="#121212"/>
<rect x="26.2" y="105.2" width="61.0" height="9.3" fill="#494949"/>
<rect x="86.6" y="105.2" width="61.0" height="9.3" fill="#5b5b5b"/>
<rect x="147.0" y="105.2" width="40.9" height="9.3" fill="#494949"/>
<rect x="187.2" y="105.2" width="101.2" height="9.3" fill="#373737"/>
<rect x="287.9" y="105.2" width="61.0" height="9.3" fill="#242424"/>
<rect x="348.2" y="105.2" width="81.1" height="9.3" fill="#373737"/>
<rect x="428.8" y="105.2" width="20.7" height="9.3" fill="#494949"/>
<rect x="448.9" y="105.2" width="20.7" height="9.3" fill="#373737"/>
<rect x="469.0" y="105.2" width="20.7" height="9.3" fill="#494949"/>
<rect x="489.1" y="105.2" width="40.9" height="9.3" fill="#242424"/>
<rect x="529.4" y="105.2" width="61.0" height="9.3" fill="#121212"/>
<rect x="26.2" y="113.9" width="61.0" height="9.3" fill="#494949"/>
<rect x="86.6" y="113.9" width="61.0" height="9.3" fill="#5b5b5b"/>
<rect x="147.0" y="113.9" width="40.9" height="9.3" fill="#494949"/>
<rect x="187.2" y="113.9" width="101.2" height="9.3" fill="#373737"/>
<rect x="287.9" y="113.9" width="61.0" height="9.3" fill="#242424"/>
<rect x="348.2" y="113.9" width="81.1" height="9.3" fill="#373737"/>
<rect x="428.8" y="113.9" width="20.7" height="9.3" fill="#494949"/>
<rect x="448.9" y="113.9" width="20.7" height="9.3" fill="#373737"/>
<rect x="469.0" y="113.9" width="20.7" height="9.3" fill="#494949"/>
<rect x="489.1" y="113.9" width="40.9" height="9.3" fill="#242424"/>
<rect x="529.4" y="113.9" width="61.0" height="9.3" fill="#121212"/>
<rect x="26.2" y="122.6" width="61.0" height="9.3" fill="#494949"/>
<rect x="86.6" y="122.6" width="61.0" height="9.3" fill="#5b5b5b"/>
<rect x="147.0" y="122.6" width="40.9" height="9.3" fill="#494949"/>
<rect x="187.2" y="122.6" width="101.2" height="9.3" fill="#373737"/>
<rect x="287.9" y="122.6" width="61.0" height="9.3" fill="#242424"/>
<rect x="348.2" y="122.6" width="81.1" height="9.3" fill="#373737"/>
<rect x="428.8" y="122.6" width="20.7" height="9.3" fill="#494949"/>
<rect x="448.9" y="122.6" width="20.7" height="9.3" fill="#373737"/>
<rect x="469.0" y="122.6" width="20.7" height="9.3" fill="#494949"/>
<rect x="489.1" y="122.6" width="40.9" height="9.3" fill="#242424"/>
<rect x="529.4" y="122.6" width="61.0" height="9.3" fill="#121212"/>
<rect x="26.2" y="131.3" width="61.0" height="9.3" fill="#5b5b5b"/>
<rect x="86.6" y="131.3" width="40.9" height="9.3" fill="#494949"/>
<rect x="126.9" y="131.3" width="20.7" height="9.3" fill="#5b5b5b"/>
<rect x="147.0" y="131.3" width="40.9" height="9.3" fill="#494949"/>
<rect x="187.2" y="131.3" width="101.2" height="9.3" fill="#373737"/>
<rect x="287.9" y="131.3" width="61.0" height="9.3" fill="#242424"/>
<rect x="348.2" y="131.3" width="81.1" height="9.3" fill="#373737"/>
<rect x="428.8" y="131.3" width="20.7" height="9.3" fill="#494949"/>
<rect x="448.9" y="131.3" width="20.7" height="9.3" fill="#373737"/>
<rect x="469.0" y="131.3" width="20.7" height="9.3" fill="#494949"/>
<rect x="489.1" y="131.3" width="40.9" height="9.3" fill="#242424"/>
<rect x="529.4" y="131.3" width="61.0" height="9.3" fill="#121212"/>
<rect x="26.2" y="140.0" width="61.0" height="9.3" fill="#494949"/>
<rect x="86.6" y="140.0" width="20.7" height="9.3" fill="#373737"/>
<rect x="106.8" y="140.0" width="40.9" height="9.3" fill="#494949"/>
<rect x="147.0" y="140.0" width="20.7" height="9.3" fill="#373737"/>
<rect x="167.1" y="140.0" width="40.9" height="9.3" fill="#494949"/>
<rect x="207.4" y="140.0" width="61.0" height="9.3" fill="#373737"/>
<rect x="267.8" y="140.0" width="81.1" height="9.3" fill="#242424"/>
<rect x="348.2" y="140.0" width="81.1" height="9.3" fill="#373737"/>
<rect x="428.8" y="140.0" width="20.7" height="9.3" fill="#494949"/>
<rect x="448.9" y="140.0" width="20.7" height="9.3" fill="#373737"/>
<rect x="469.0" y="140.0" width="20.7" height="9.3" fill="#494949"/>
<rect x="489.1" y="140.0" width="40.9" height="9.3" fill="#242424"/>
<rect x="529.4" y="140.0" width="61.0" height="9.3" fill="#121212"/>
<rect x="26.2" y="148.7" width="81.1" height="9.3" fill="#494949"/>
<rect x="106.8" y="148.7" width="20.7" height="9.3" fill="#373737"/>
<rect x="126.9" y="148.7" width="40.9" height="9.3" fill="#5b5b5b"/>
<rect x="167.1" y="148.7" width="101.2" height="9.3" fill="#494949"/>
<rect x="267.8" y="148.7" width="40.9" height="9.3" fill="#373737"/>
<rect x="308.0" y="148.7" width="20.7" height="9.3" fill="#242424"/>
<rect x="328.1" y="148.7" width="40.9" height="9.3" fill="#373737"/>
<rect x="368.4" y="148.7" width="40.9" height="9.3" fill="#494949"/>
<rect x="408.6" y="148.7" width="20.7" height="9.3" fill="#373737"/>
<rect x="428.8" y="148.7" width="20.7" height="9.3" fill="#494949"/>
<rect x="448.9" y="148.7" width="20.7" height="9.3" fill="#373737"/>
<rect x="469.0" y="148.7" width="20.7" height="9.3" fill="#494949"/>
<rect x="489.1" y="148.7" width="40.9" height="9.3" fill="#242424"/>
<rect x="529.4" y="148.7" width="61.0" height="9.3" fill="#121212"/>
<rect x="26.2" y="157.4" width="61.0" height="9.3" fill="#494949"/>
<rect x="86.6" y="157.4" width="40.9" height="9.3" fill="#373737"/>
<rect x="126.9" y="157.4" width="20.7" height="9.3" fill="#494949"/>
<rect x="147.0" y="157.4" width="40.9" height="9.3" fill="#5b5b5b"/>
<rect x="187.2" y="157.4" width="121.3" height="9.3" fill="#494949"/>
<rect x="308.0" y="157.4" width="20.7" height="9.3" fill="#373737"/>
<rect x="328.1" y="157.4" width="161.6" height="9.3" fill="#494949"/>
<rect x="489.1" y="157.4" width="20.7" height="9.3" fill="#242424"/>
<rect x="509.2" y="157.4" width="81.1" height="9.3" fill="#121212"/>
<rect x="26.2" y="166.1" width="121.3" height="9.3" fill="#5b5b5b"/>
<rect x="147.0" y="166.1" width="20.7" height="9.3" fill="#6d6d6d"/>
<rect x="167.1" y="166.1" width="20.7" height="9.3" fill="#808080"/>
<rect x="187.2" y="166.1" width="20.7" height="9.3" fill="#6d6d6d"/>
<rect x="207.4" y="166.1" width="40.9" height="9.3" fill="#5b5b5b"/>
<rect x="247.6" y="166.1" width="40.9" height="9.3" fill="#6d6d6d"/>
<rect x="287.9" y="166.1" width="61.0" height="9.3" fill="#5b5b5b"/>
<rect x="348.2" y="166.1" width="40.9" height="9.3" fill="#6d6d6d"/>
<rect x="388.5" y="166.1" width="40.9" height="9.3" fill="#5b5b5b"/>
<rect x="428.8" y="166.1" width="40.9" height="9.3" fill="#494949"/>
<rect x="469.0" y="166.1" width="20.7" height="9.3" fill="#373737"/>
<rect x="489.1" y="166.1" width="20.7" height="9.3" fill="#242424"/>
<rect x="509.2" y="166.1" width="81.1" height="9.3" fill="#121212"/>
<rect x="26.2" y="174.8" width="121.3" height="9.3" fill="#5b5b5b"/>
<rect x="147.0" y="174.8" width="20.7" height="9.3" fill="#6d6d6d"/>
<rect x="167.1" y="174.8" width="20.7" height="9.3" fill="#808080"/>
<rect x="187.2" y="174.8" width="20.7" height="9.3" fill="#6d6d6d"/>
<rect x="207.4" y="174.8" width="20.7" height="9.3" fill="#5b5b5b"/>
<rect x="227.5" y="174.8" width="20.7" height="9.3" fill="#929292"/>
<rect x="247.6" y="174.8" width="20.7" height="9.3" fill="#a4a4a4"/>
<rect x="267.8" y="174.8" width="20.7" height="9.3" fill="#b6b6b6"/>
<rect x="287.9" y="174.8" width="20.7" height="9.3" fill="#929292"/>
<rect x="308.0" y="174.8" width="40.9" height="9.3" fill="#6d6d6d"/>
<rect x="348.2" y="174.8" width="40.9" height="9.3" fill="#808080"/>
<rect x="388.5" y="174.8" width="40.9" height="9.3" fill="#5b5b5b"/>
<rect x="428.8" y="174.8" width="40.9" height="9.3" fill="#494949"/>
<rect x="469.0" y="174.8" width="20.7" height="9.3" fill="#373737"/>
<rect x="489.1" y="174.8" width="101.2" height="9.3" fill="#242424"/>
<rect x="26.2" y="183.5" width="121.3" height="9.3" fill="#5b5b5b"/>
<rect x="147.0" y="183.5" width="20.7" height="9.3" fill="#6d6d6d"/>
<rect x="167.1" y="183.5" width="20.7" height="9.3" fill="#808080"/>
<rect x="187.2" y="183.5" width="20.7" height="9.3" fill="#6d6d6d"/>
<rect x="207.4" y="183.5" width="20.7" height="9.3" fill="#5b5b5b"/>
<rect x="227.5" y="183.5" width="20.7" height="9.3" fill="#929292"/>
<rect x="247.6" y="183.5" width="20.7" height="9.3" fill="#a4a4a4"/>
<rect x="267.8" y="183.5" width="20.7" height="9.3" fill="#b6b6b6"/>
<rect x="287.9" y="183.5" width="61.0" height="9.3" fill="#6d6d6d"/>
<rect x="348.2" y="183.5" width="40.9" height="9.3" fill="#808080"/>
<rect x="388.5" y="183.5" width="40.9" height="9.3" fill="#5b5b5b"/>
<rect x="428.8" y="183.5" width="40.9" height="9.3" fill="#494949"/>
<rect x="469.0" y="183.5" width="20.7" height="9.3" fill="#373737"/>
<rect x="489.1" y="183.5" width="101.2" height="9.3" fill="#242424"/>
<rect x="26.2" y="192.2" width="121.3" height="9.3" fill="#5b5b5b"/>
<rect x="147.0" y="192.2" width="20.7" height="9.3" fill="#6d6d6d"/>
<rect x="167.1" y="192.2" width="20.7" height="9.3" fill="#808080"/>
<rect x="187.2" y="192.2" width="20.7" height="9.3" fill="#6d6d6d"/>
<rect x="207.4" y="192.2" width="20.7" height="9.3" fill="#5b5b5b"/>
<rect x="227.5" y="192.2" width="20.7" height="9.3" fill="#929292"/>
<rect x="247.6" y="192.2" width="20.7" height="9.3" fill="#a4a4a4"/>
<rect x="267.8" y="192.2" width="20.7" height="9.3" fill="#b6b6b6"/>
<rect x="287.9" y="192.2" width="61.0" height="9.3" fill="#6d6d6d"/>
<rect x="348.2" y="192.2" width="40.9" height="9.3" fill="#808080"/>
<rect x="388.5" y="192.2" width="40.9" height="9.3" fill="#5b5b5b"/>
<rect x="428.8" y="192.2" width="40.9" height="9.3" fill="#494949"/>
<rect x="469.0" y="192.2" width="20.7" height="9.3" fill="#373737"/>
<rect x="489.1" y="192.2" width="101.2" height="9.3" fill="#242424"/>
<rect x="26.2" y="200.9" width="121.3" height="9.3" fill="#5b5b5b"/>
<rect x="147.0" y="200.9" width="20.7" height="9.3" fill="#6d6d6d"/>
<rect x="167.1" y="200.9" width="20.7" height="9.3" fill="#808080"/>
<rect x="187.2" y="200.9" width="20.7" height="9.3" fill="#6d6d6d"/>
<rect x="207.4" y="200.9" width="20.7" height="9.3" fill="#5b5b5b"/>
<rect x="227.5" y="200.9" width="20.7" height="9.3" fill="#929292"/>
<rect x="247.6" y="200.9" width="20.7" height="9.3" fill="#a4a4a4"/>
<rect x="267.8" y="200.9" width="20.7" height="9.3" fill="#b6b6b6"/>
<rect x="287.9" y="200.9" width="61.0" height="9.3" fill="#6d6d6d"/>
<rect x="348.2" y="200.9" width="40.9" height="9.3" fill="#808080"/>
<rect x="388.5" y="200.9" width="40.9" height="9.3" fill="#5b5b5b"/>
<rect x="428.8" y="200.9" width="40.9" height="9.3" fill="#494949"/>
<rect x="469.0" y="200.9" width="20.7" height="9.3" fill="#373737"/>
<rect x="489.1" y="200.9" width="101.2" height="9.3" fill="#242424"/>
<rect x="26.2" y="209.6" width="121.3" height="9.3" fill="#5b5b5b"/>
<rect x="147.0" y="209.6" width="20.7" height="9.3" fill="#6d6d6d"/>
<rect x="167.1" y="209.6" width="20.7" height="9.3" fill="#808080"/>
<rect x="187.2" y="209.6" width="20.7" height="9.3" fill="#6d6d6d"/>
<rect x="207.4" y="209.6" width="20.7" height="9.3" fill="#5b5b5b"/>
<rect x="227.5" y="209.6" width="20.7" height="9.3" fill="#929292"/>
<rect x="247.6" y="209.6" width="20.7" height="9.3" fill="#a4a4a4"/>
<rect x="267.8" y="209.6" width="20.7" height="9.3" fill="#b6b6b6"/>
<rect x="287.9" y="209.6" width="61.0" height="9.3" fill="#6d6d6d"/>
<rect x="348.2" y="209.6" width="40.9" height="9.3" fill="#808080"/>
<rect x="388.5" y="209.6" width="40.9" height="9.3" fill="#5b5b5b"/>
<rect x="428.8" y="209.6" width="40.9" height="9.3" fill="#494949"/>
<rect x="469.0" y="209.6" width="20.7" height="9.3" fill="#373737"/>
<rect x="489.1" y="209.6" width="101.2" height="9.3" fill="#242424"/>
<rect x="26.2" y="218.3" width="121.3" height="9.3" fill="#5b5b5b"/>
<rect x="147.0" y="218.3" width="20.7" height="9.3" fill="#6d6d6d"/>
<rect x="167.1" y="218.3" width="20.7" height="9.3" fill="#808080"/>
<rect x="187.2" y="218.3" width="20.7" height="9.3" fill="#6d6d6d"/>
<rect x="207.4" y="218.3" width="20.7" height="9.3" fill="#5b5b5b"/>
<rect x="227.5" y="218.3" width="20.7" height="9.3" fill="#929292"/>
<rect x="247.6" y="218.3" width="20.7" height="9.3" fill="#a4a4a4"/>
<rect x="267.8" y="218.3" width="20.7" height="9.3" fill="#b6b6b6"/>
<rect x="287.9" y="218.3" width="61.0" height="9.3" fill="#6d6d6d"/>
<rect x="348.2" y="218.3" width="40.9" height="9.3" fill="#808080"/>
<rect x="388.5" y="218.3" width="40.9" height="9.3" fill="#5b5b5b"/>
<rect x="428.8" y="218.3" width="40.9" height="9.3" fill="#494949"/>
<rect x="469.0" y="218.3" width="20.7" height="9.3" fill="#373737"/>
<rect x="489.1" y="218.3" width="101.2" height="9.3" fill="#242424"/>
<rect x="26.2" y="227.0" width="121.3" height="9.3" fill="#5b5b5b"/>
<rect x="147.0" y="227.0" width="20.7" height="9.3" fill="#6d6d6d"/>
<rect x="167.1" y="227.0" width="20.7" height="9.3" fill="#808080"/>
<rect x="187.2" y="227.0" width="20.7" height="9.3" fill="#6d6d6d"/>
<rect x="207.4" y="227.0" width="20.7" height="9.3" fill="#5b5b5b"/>
<rect x="227.5" y="227.0" width="20.7" height="9.3" fill="#929292"/>
<rect x="247.6" y="227.0" width="20.7" height="9.3" fill="#a4a4a4"/>
<rect x="267.8" y="227.0" width="20.7" height="9.3" fill="#b6b6b6"/>
<rect x="287.9" y="227.0" width="61.0" height="9.3" fill="#6d6d6d"/>
<rect x="348.2" y="227.0" width="40.9" height="9.3" fill="#808080"/>
<rect x="388.5" y="227.0" width="40.9" height="9.3" fill="#5b5b5b"/>
<rect x="428.8" y="227.0" width="40.9" height="9.3" fill="#494949"/>
<rect x="469.0" y="227.0" width="20.7" height="9.3" fill="#373737"/>
<rect x="489.1" y="227.0" width="101.2" height="9.3" fill="#242424"/>
<rect x="26.2" y="235.7" width="121.3" height="9.3" fill="#5b5b5b"/>
<rect x="147.0" y="235.7" width="20.7" height="9.3" fill="#6d6d6d"/>
<rect x="167.1" y="235.7" width="20.7" height="9.3" fill="#808080"/>
<rect x="187.2" y="235.7" width="20.7" height="9.3" fill="#6d6d6d"/>
<rect x="207.4" y="235.7" width="20.7" height="9.3" fill="#5b5b5b"/>
<rect x="227.5" y="235.7" width="20.7" height="9.3" fill="#929292"/>
<rect x="247.6" y="235.7" width="20.7" height="9.3" fill="#a4a4a4"/>
<rect x="267.8" y="235.7" width="20.7" height="9.3" fill="#b6b6b6"/>
<rect x="287.9" y="235.7" width="61.0" height="9.3" fill="#6d6d6d"/>
<rect x="348.2" y="235.7" width="40.9" height="9.3" fill="#808080"/>
<rect x="388.5" y="235.7" width="40.9" height="9.3" fill="#5b5b5b"/>
<rect x="428.8" y="235.7" width="40.9" height="9.3" fill="#494949"/>
<rect x="469.0" y="235.7" width="20.7" height="9.3" fill="#373737"/>
<rect x="489.1" y="235.7" width="101.2" height="9.3" fill="#242424"/>
<rect x="26.2" y="244.4" width="121.3" height="9.3" fill="#5b5b5b"/>
<rect x="147.0" y="244.4" width="20.7" height="9.3" fill="#6d6d6d"/>
<rect x="167.1" y="244.4" width="20.7" height="9.3" fill="#808080"/>
<rect x="187.2" y="244.4" width="20.7" height="9.3" fill="#6d6d6d"/>
<rect x="207.4" y="244.4" width="20.7" height="9.3" fill="#5b5b5b"/>
<rect x="227.5" y="244.4" width="20.7" height="9.3" fill="#929292"/>
<rect x="247.6" y="244.4" width="20.7" height="9.3" fill="#a4a4a4"/>
<rect x="267.8" y="244.4" width="20.7" height="9.3" fill="#b6b6b6"/>
<rect x="287.9" y="244.4" width="61.0" height="9.3" fill="#6d6d6d"/>
<rect x="348.2" y="244.4" width="40.9" height="9.3" fill="#808080"/>
<rect x="388.5" y="244.4" width="40.9" height="9.3" fill="#5b5b5b"/>
<rect x="428.8" y="244.4" width="40.9" height="9.3" fill="#494949"/>
<rect x="469.0" y="244.4" width="20.7" height="9.3" fill="#373737"/>
<rect x="489.1" y="244.4" width="101.2" height="9.3" fill="#242424"/>
<rect x="26.2" y="253.1" width="121.3" height="9.3" fill="#5b5b5b"/>
<rect x="147.0" y="253.1" width="20.7" height="9.3" fill="#6d6d6d"/>
<rect x="167.1" y="253.1" width="20.7" height="9.3" fill="#808080"/>
<rect x="187.2" y="253.1" width="20.7" height="9.3" fill="#6d6d6d"/>
<rect x="207.4" y="253.1" width="20.7" height="9.3" fill="#5b5b5b"/>
<rect x="227.5" y="253.1" width="20.7" height="9.3" fill="#929292"/>
<rect x="247.6" y="253.1" width="20.7" height="9.3" fill="#a4a4a4"/>
<rect x="267.8" y="253.1" width="20.7" height="9.3" fill="#b6b6b6"/>
<rect x="287.9" y="253.1" width="61.0" height="9.3" fill="#6d6d6d"/>
<rect x="348.2" y="253.1" width="40.9" height="9.3" fill="#808080"/>
<rect x="388.5" y="253.1" width="40.9" height="9.3" fill="#5b5b5b"/>
<rect x="428.8" y="253.1" width="40.9" height="9.3" fill="#494949"/>
<rect x="469.0" y="253.1" width="20.7" height="9.3" fill="#373737"/>
<rect x="489.1" y="253.1" width="101.2" height="9.3" fill="#242424"/>
<rect x="26.2" y="261.8" width="121.3" height="9.3" fill="#5b5b5b"/>
<rect x="147.0" y="261.8" width="20.7" height="9.3" fill="#6d6d6d"/>
<rect x="167.1" y="261.8" width="20.7" height="9.3" fill="#808080"/>
<rect x="187.2" y="261.8" width="20.7" height="9.3" fill="#6d6d6d"/>
<rect x="207.4" y="261.8" width="20.7" height="9.3" fill="#5b5b5b"/>
<rect x="227.5" y="261.8" width="20.7" height="9.3" fill="#929292"/>
<rect x="247.6" y="261.8" width="20.7" height="9.3" fill="#a4a4a4"/>
<rect x="267.8" y="261.8" width="20.7" height="9.3" fill="#b6b6b6"/>
<rect x="287.9" y="261.8" width="61.0" height="9.3" fill="#6d6d6d"/>
<rect x="348.2" y="261.8" width="40.9" height="9.3" fill="#808080"/>
<rect x="388.5" y="261.8" width="40.9" height="9.3" fill="#5b5b5b"/>
<rect x="428.8" y="261.8" width="40.9" height="9.3" fill="#494949"/>
<rect x="469.0" y="261.8" width="20.7" height="9.3" fill="#373737"/>
<rect x="489.1" y="261.8" width="101.2" height="9.3" fill="#242424"/>
<rect x="26.2" y="270.5" width="121.3" height="9.3" fill="#5b5b5b"/>
<rect x="147.0" y="270.5" width="20.7" height="9.3" fill="#6d6d6d"/>
<rect x="167.1" y="270.5" width="20.7" height="9.3" fill="#808080"/>
<rect x="187.2" y="270.5" width="20.7" height="9.3" fill="#6d6d6d"/>
<rect x="207.4" y="270.5" width="20.7" height="9.3" fill="#5b5b5b"/>
<rect x="227.5" y="270.5" width="20.7" height="9.3" fill="#929292"/>
<rect x="247.6" y="270.5" width="20.7" height="9.3" fill="#a4a4a4"/>
<rect x="267.8" y="270.5" width="20.7" height="9.3" fill="#b6b6b6"/>
<rect x="287.9" y="270.5" width="61.0" height="9.3" fill="#6d6d6d"/>
<rect x="348.2" y="270.5" width="40.9" height="9.3" fill="#808080"/>
<rect x="388.5" y="270.5" width="40.9" height="9.3" fill="#5b5b5b"/>
<rect x="428.8" y="270.5" width="40.9" height="9.3" fill="#494949"/>
<rect x="469.0" y="270.5" width="20.7" height="9.3" fill="#373737"/>
<rect x="489.1" y="270.5" width="101.2" height="9.3" fill="#242424"/>
<rect x="26.2" y="279.2" width="121.3" height="9.3" fill="#5b5b5b"/>
<rect x="147.0" y="279.2" width="20.7" height="9.3" fill="#6d6d6d"/>
<rect x="167.1" y="279.2" width="20.7" height="9.3" fill="#808080"/>
<rect x="187.2" y="279.2" width="20.7" height="9.3" fill="#6d6d6d"/>
<rect x="207.4" y="279.2" width="20.7" height="9.3" fill="#5b5b5b"/>
<rect x="227.5" y="279.2" width="20.7" height="9.3" fill="#929292"/>
<rect x="247.6" y="279.2" width="20.7" height="9.3" fill="#a4a4a4"/>
<rect x="267.8" y="279.2" width="20.7" height="9.3" fill="#b6b6b6"/>
<rect x="287.9" y="279.2" width="61.0" height="9.3" fill="#6d6d6d"/>
<rect x="348.2" y="279.2" width="40.9" height="9.3" fill="#808080"/>
<rect x="388.5" y="279.2" width="40.9" height="9.3" fill="#5b5b5b"/>
<rect x="428.8" y="279.2" width="40.9" height="9.3" fill="#494949"/>
<rect x="469.0" y="279.2" width="20.7" height="9.3" fill="#373737"/>
<rect x="489.1" y="279.2" width="101.2" height="9.3" fill="#242424"/>
</g></g>
<g clip-path="url(#z3)"><g filter="url(#bl)">
<rect x="26.2" y="-7.9" width="61.0" height="9.3" fill="#929292"/>
<rect x="86.6" y="-7.9" width="61.0" height="9.3" fill="#808080"/>
<rect x="147.0" y="-7.9" width="20.7" height="9.3" fill="#929292"/>
<rect x="167.1" y="-7.9" width="40.9" height="9.3" fill="#a4a4a4"/>
<rect x="207.4" y="-7.9" width="20.7" height="9.3" fill="#808080"/>
<rect x="227.5" y="-7.9" width="40.9" height="9.3" fill="#a4a4a4"/>
<rect x="267.8" y="-7.9" width="20.7" height="9.3" fill="#929292"/>
<rect x="287.9" y="-7.9" width="61.0" height="9.3" fill="#808080"/>
<rect x="348.2" y="-7.9" width="20.7" height="9.3" fill="#929292"/>
<rect x="368.4" y="-7.9" width="20.7" height="9.3" fill="#a4a4a4"/>
<rect x="388.5" y="-7.9" width="81.1" height="9.3" fill="#929292"/>
<rect x="469.0" y="-7.9" width="20.7" height="9.3" fill="#6d6d6d"/>
<rect x="489.1" y="-7.9" width="40.9" height="9.3" fill="#494949"/>
<rect x="529.4" y="-7.9" width="61.0" height="9.3" fill="#5b5b5b"/>
<rect x="26.2" y="0.8" width="61.0" height="9.3" fill="#929292"/>
<rect x="86.6" y="0.8" width="61.0" height="9.3" fill="#808080"/>
<rect x="147.0" y="0.8" width="20.7" height="9.3" fill="#929292"/>
<rect x="167.1" y="0.8" width="40.9" height="9.3" fill="#a4a4a4"/>
<rect x="207.4" y="0.8" width="20.7" height="9.3" fill="#808080"/>
<rect x="227.5" y="0.8" width="40.9" height="9.3" fill="#a4a4a4"/>
<rect x="267.8" y="0.8" width="20.7" height="9.3" fill="#929292"/>
<rect x="287.9" y="0.8" width="61.0" height="9.3" fill="#808080"/>
<rect x="348.2" y="0.8" width="20.7" height="9.3" fill="#929292"/>
<rect x="368.4" y="0.8" width="20.7" height="9.3" fill="#a4a4a4"/>
<rect x="388.5" y="0.8" width="81.1" height="9.3" fill="#929292"/>
<rect x="469.0" y="0.8" width="20.7" height="9.3" fill="#6d6d6d"/>
<rect x="489.1" y="0.8" width="40.9" height="9.3" fill="#494949"/>
<rect x="529.4" y="0.8" width="61.0" height="9.3" fill="#5b5b5b"/>
<rect x="26.2" y="9.5" width="61.0" height="9.3" fill="#929292"/>
<rect x="86.6" y="9.5" width="61.0" height="9.3" fill="#808080"/>
<rect x="147.0" y="9.5" width="20.7" height="9.3" fill="#929292"/>
<rect x="167.1" y="9.5" width="40.9" height="9.3" fill="#a4a4a4"/>
<rect x="207.4" y="9.5" width="20.7" height="9.3" fill="#808080"/>
<rect x="227.5" y="9.5" width="40.9" height="9.3" fill="#a4a4a4"/>
<rect x="267.8" y="9.5" width="20.7" height="9.3" fill="#929292"/>
<rect x="287.9" y="9.5" width="61.0" height="9.3" fill="#808080"/>
<rect x="348.2" y="9.5" width="20.7" height="9.3" fill="#929292"/>
<rect x="368.4" y="9.5" width="20.7" height="9.3" fill="#a4a4a4"/>
<rect x="388.5" y="9.5" width="81.1" height="9.3" fill="#929292"/>
<rect x="469.0" y="9.5" width="20.7" height="9.3" fill="#6d6d6d"/>
<rect x="489.1" y="9.5" width="40.9" height="9.3" fill="#494949"/>
<rect x="529.4" y="9.5" width="61.0" height="9.3" fill="#5b5b5b"/>
<rect x="26.2" y="18.2" width="61.0" height="9.3" fill="#929292"/>
<rect x="86.6" y="18.2" width="61.0" height="9.3" fill="#808080"/>
<rect x="147.0" y="18.2" width="20.7" height="9.3" fill="#929292"/>
<rect x="167.1" y="18.2" width="40.9" height="9.3" fill="#a4a4a4"/>
<rect x="207.4" y="18.2" width="20.7" height="9.3" fill="#808080"/>
<rect x="227.5" y="18.2" width="40.9" height="9.3" fill="#a4a4a4"/>
<rect x="267.8" y="18.2" width="20.7" height="9.3" fill="#929292"/>
<rect x="287.9" y="18.2" width="61.0" height="9.3" fill="#808080"/>
<rect x="348.2" y="18.2" width="20.7" height="9.3" fill="#929292"/>
<rect x="368.4" y="18.2" width="20.7" height="9.3" fill="#a4a4a4"/>
<rect x="388.5" y="18.2" width="81.1" height="9.3" fill="#929292"/>
<rect x="469.0" y="18.2" width="20.7" height="9.3" fill="#6d6d6d"/>
<rect x="489.1" y="18.2" width="40.9" height="9.3" fill="#494949"/>
<rect x="529.4" y="18.2" width="61.0" height="9.3" fill="#5b5b5b"/>
<rect x="26.2" y="26.9" width="61.0" height="9.3" fill="#929292"/>
<rect x="86.6" y="26.9" width="61.0" height="9.3" fill="#808080"/>
<rect x="147.0" y="26.9" width="20.7" height="9.3" fill="#929292"/>
<rect x="167.1" y="26.9" width="40.9" height="9.3" fill="#a4a4a4"/>
<rect x="207.4" y="26.9" width="20.7" height="9.3" fill="#808080"/>
<rect x="227.5" y="26.9" width="40.9" height="9.3" fill="#a4a4a4"/>
<rect x="267.8" y="26.9" width="20.7" height="9.3" fill="#929292"/>
<rect x="287.9" y="26.9" width="61.0" height="9.3" fill="#808080"/>
<rect x="348.2" y="26.9" width="20.7" height="9.3" fill="#929292"/>
<rect x="368.4" y="26.9" width="20.7" height="9.3" fill="#a4a4a4"/>
<rect x="388.5" y="26.9" width="81.1" height="9.3" fill="#929292"/>
<rect x="469.0" y="26.9" width="20.7" height="9.3" fill="#6d6d6d"/>
<rect x="489.1" y="26.9" width="40.9" height="9.3" fill="#494949"/>
<rect x="529.4" y="26.9" width="61.0" height="9.3" fill="#5b5b5b"/>
<rect x="26.2" y="35.6" width="61.0" height="9.3" fill="#929292"/>
<rect x="86.6" y="35.6" width="61.0" height="9.3" fill="#808080"/>
<rect x="147.0" y="35.6" width="20.7" height="9.3" fill="#929292"/>
<rect x="167.1" y="35.6" width="40.9" height="9.3" fill="#a4a4a4"/>
<rect x="207.4" y="35.6" width="20.7" height="9.3" fill="#808080"/>
<rect x="227.5" y="35.6" width="40.9" height="9.3" fill="#a4a4a4"/>
<rect x="267.8" y="35.6" width="20.7" height="9.3" fill="#929292"/>
<rect x="287.9" y="35.6" width="61.0" height="9.3" fill="#808080"/>
<rect x="348.2" y="35.6" width="20.7" height="9.3" fill="#929292"/>
<rect x="368.4" y="35.6" width="20.7" height="9.3" fill="#a4a4a4"/>
<rect x="388.5" y="35.6" width="81.1" height="9.3" fill="#929292"/>
<rect x="469.0" y="35.6" width="20.7" height="9.3" fill="#6d6d6d"/>
<rect x="489.1" y="35.6" width="40.9" height="9.3" fill="#494949"/>
<rect x="529.4" y="35.6" width="61.0" height="9.3" fill="#5b5b5b"/>
<rect x="26.2" y="44.3" width="61.0" height="9.3" fill="#929292"/>
<rect x="86.6" y="44.3" width="61.0" height="9.3" fill="#808080"/>
<rect x="147.0" y="44.3" width="20.7" height="9.3" fill="#929292"/>
<rect x="167.1" y="44.3" width="40.9" height="9.3" fill="#a4a4a4"/>
<rect x="207.4" y="44.3" width="20.7" height="9.3" fill="#808080"/>
<rect x="227.5" y="44.3" width="40.9" height="9.3" fill="#a4a4a4"/>
<rect x="267.8" y="44.3" width="20.7" height="9.3" fill="#929292"/>
<rect x="287.9" y="44.3" width="61.0" height="9.3" fill="#808080"/>
<rect x="348.2" y="44.3" width="20.7" height="9.3" fill="#929292"/>
<rect x="368.4" y="44.3" width="20.7" height="9.3" fill="#a4a4a4"/>
<rect x="388.5" y="44.3" width="81.1" height="9.3" fill="#929292"/>
<rect x="469.0" y="44.3" width="20.7" height="9.3" fill="#6d6d6d"/>
<rect x="489.1" y="44.3" width="40.9" height="9.3" fill="#494949"/>
<rect x="529.4" y="44.3" width="61.0" height="9.3" fill="#5b5b5b"/>
<rect x="26.2" y="53.0" width="61.0" height="9.3" fill="#929292"/>
<rect x="86.6" y="53.0" width="61.0" height="9.3" fill="#808080"/>
<rect x="147.0" y="53.0" width="20.7" height="9.3" fill="#929292"/>
<rect x="167.1" y="53.0" width="40.9" height="9.3" fill="#a4a4a4"/>
<rect x="207.4" y="53.0" width="20.7" height="9.3" fill="#808080"/>
<rect x="227.5" y="53.0" width="40.9" height="9.3" fill="#a4a4a4"/>
<rect x="267.8" y="53.0" width="20.7" height="9.3" fill="#929292"/>
<rect x="287.9" y="53.0" width="61.0" height="9.3" fill="#808080"/>
<rect x="348.2" y="53.0" width="20.7" height="9.3" fill="#929292"/>
<rect x="368.4" y="53.0" width="20.7" height="9.3" fill="#a4a4a4"/>
<rect x="388.5" y="53.0" width="81.1" height="9.3" fill="#929292"/>
<rect x="469.0" y="53.0" width="20.7" height="9.3" fill="#6d6d6d"/>
<rect x="489.1" y="53.0" width="40.9" height="9.3" fill="#494949"/>
<rect x="529.4" y="53.0" width="61.0" height="9.3" fill="#5b5b5b"/>
<rect x="26.2" y="61.7" width="61.0" height="9.3" fill="#929292"/>
<rect x="86.6" y="61.7" width="61.0" height="9.3" fill="#808080"/>
<rect x="147.0" y="61.7" width="20.7" height="9.3" fill="#929292"/>
<rect x="167.1" y="61.7" width="40.9" height="9.3" fill="#a4a4a4"/>
<rect x="207.4" y="61.7" width="20.7" height="9.3" fill="#808080"/>
<rect x="227.5" y="61.7" width="40.9" height="9.3" fill="#a4a4a4"/>
<rect x="267.8" y="61.7" width="20.7" height="9.3" fill="#929292"/>
<rect x="287.9" y="61.7" width="61.0" height="9.3" fill="#808080"/>
<rect x="348.2" y="61.7" width="20.7" height="9.3" fill="#929292"/>
<rect x="368.4" y="61.7" width="20.7" height="9.3" fill="#a4a4a4"/>
<rect x="388.5" y="61.7" width="81.1" height="9.3" fill="#929292"/>
<rect x="469.0" y="61.7" width="20.7" height="9.3" fill="#6d6d6d"/>
<rect x="489.1" y="61.7" width="40.9" height="9.3" fill="#494949"/>
<rect x="529.4" y="61.7" width="61.0" height="9.3" fill="#5b5b5b"/>
<rect x="26.2" y="70.4" width="61.0" height="9.3" fill="#929292"/>
<rect x="86.6" y="70.4" width="61.0" height="9.3" fill="#808080"/>
<rect x="147.0" y="70.4" width="20.7" height="9.3" fill="#929292"/>
<rect x="167.1" y="70.4" width="40.9" height="9.3" fill="#a4a4a4"/>
<rect x="207.4" y="70.4" width="20.7" height="9.3" fill="#808080"/>
<rect x="227.5" y="70.4" width="40.9" height="9.3" fill="#a4a4a4"/>
<rect x="267.8" y="70.4" width="20.7" height="9.3" fill="#929292"/>
<rect x="287.9" y="70.4" width="61.0" height="9.3" fill="#808080"/>
<rect x="348.2" y="70.4" width="20.7" height="9.3" fill="#929292"/>
<rect x="368.4" y="70.4" width="20.7" height="9.3" fill="#a4a4a4"/>
<rect x="388.5" y="70.4" width="81.1" height="9.3" fill="#929292"/>
<rect x="469.0" y="70.4" width="20.7" height="9.3" fill="#6d6d6d"/>
<rect x="489.1" y="70.4" width="40.9" height="9.3" fill="#494949"/>
<rect x="529.4" y="70.4" width="61.0" height="9.3" fill="#5b5b5b"/>
<rect x="26.2" y="79.1" width="61.0" height="9.3" fill="#929292"/>
<rect x="86.6" y="79.1" width="61.0" height="9.3" fill="#808080"/>
<rect x="147.0" y="79.1" width="20.7" height="9.3" fill="#929292"/>
<rect x="167.1" y="79.1" width="40.9" height="9.3" fill="#a4a4a4"/>
<rect x="207.4" y="79.1" width="20.7" height="9.3" fill="#808080"/>
<rect x="227.5" y="79.1" width="40.9" height="9.3" fill="#a4a4a4"/>
<rect x="267.8" y="79.1" width="20.7" height="9.3" fill="#929292"/>
<rect x="287.9" y="79.1" width="61.0" height="9.3" fill="#808080"/>
<rect x="348.2" y="79.1" width="20.7" height="9.3" fill="#929292"/>
<rect x="368.4" y="79.1" width="20.7" height="9.3" fill="#a4a4a4"/>
<rect x="388.5" y="79.1" width="81.1" height="9.3" fill="#929292"/>
<rect x="469.0" y="79.1" width="20.7" height="9.3" fill="#6d6d6d"/>
<rect x="489.1" y="79.1" width="40.9" height="9.3" fill="#494949"/>
<rect x="529.4" y="79.1" width="61.0" height="9.3" fill="#5b5b5b"/>
<rect x="26.2" y="87.8" width="61.0" height="9.3" fill="#929292"/>
<rect x="86.6" y="87.8" width="61.0" height="9.3" fill="#808080"/>
<rect x="147.0" y="87.8" width="20.7" height="9.3" fill="#929292"/>
<rect x="167.1" y="87.8" width="40.9" height="9.3" fill="#a4a4a4"/>
<rect x="207.4" y="87.8" width="20.7" height="9.3" fill="#808080"/>
<rect x="227.5" y="87.8" width="40.9" height="9.3" fill="#a4a4a4"/>
<rect x="267.8" y="87.8" width="20.7" height="9.3" fill="#929292"/>
<rect x="287.9" y="87.8" width="61.0" height="9.3" fill="#808080"/>
<rect x="348.2" y="87.8" width="20.7" height="9.3" fill="#929292"/>
<rect x="368.4" y="87.8" width="20.7" height="9.3" fill="#a4a4a4"/>
<rect x="388.5" y="87.8" width="81.1" height="9.3" fill="#929292"/>
<rect x="469.0" y="87.8" width="20.7" height="9.3" fill="#6d6d6d"/>
<rect x="489.1" y="87.8" width="40.9" height="9.3" fill="#494949"/>
<rect x="529.4" y="87.8" width="61.0" height="9.3" fill="#5b5b5b"/>
<rect x="26.2" y="96.5" width="61.0" height="9.3" fill="#929292"/>
<rect x="86.6" y="96.5" width="61.0" height="9.3" fill="#808080"/>
<rect x="147.0" y="96.5" width="20.7" height="9.3" fill="#929292"/>
<rect x="167.1" y="96.5" width="40.9" height="9.3" fill="#a4a4a4"/>
<rect x="207.4" y="96.5" width="20.7" height="9.3" fill="#808080"/>
<rect x="227.5" y="96.5" width="40.9" height="9.3" fill="#a4a4a4"/>
<rect x="267.8" y="96.5" width="20.7" height="9.3" fill="#929292"/>
<rect x="287.9" y="96.5" width="61.0" height="9.3" fill="#808080"/>
<rect x="348.2" y="96.5" width="20.7" height="9.3" fill="#929292"/>
<rect x="368.4" y="96.5" width="20.7" height="9.3" fill="#a4a4a4"/>
<rect x="388.5" y="96.5" width="81.1" height="9.3" fill="#929292"/>
<rect x="469.0" y="96.5" width="20.7" height="9.3" fill="#6d6d6d"/>
<rect x="489.1" y="96.5" width="40.9" height="9.3" fill="#494949"/>
<rect x="529.4" y="96.5" width="61.0" height="9.3" fill="#5b5b5b"/>
<rect x="26.2" y="105.2" width="61.0" height="9.3" fill="#929292"/>
<rect x="86.6" y="105.2" width="61.0" height="9.3" fill="#808080"/>
<rect x="147.0" y="105.2" width="20.7" height="9.3" fill="#929292"/>
<rect x="167.1" y="105.2" width="40.9" height="9.3" fill="#a4a4a4"/>
<rect x="207.4" y="105.2" width="20.7" height="9.3" fill="#808080"/>
<rect x="227.5" y="105.2" width="40.9" height="9.3" fill="#a4a4a4"/>
<rect x="267.8" y="105.2" width="20.7" height="9.3" fill="#929292"/>
<rect x="287.9" y="105.2" width="61.0" height="9.3" fill="#808080"/>
<rect x="348.2" y="105.2" width="20.7" height="9.3" fill="#929292"/>
<rect x="368.4" y="105.2" width="20.7" height="9.3" fill="#a4a4a4"/>
<rect x="388.5" y="105.2" width="81.1" height="9.3" fill="#929292"/>
<rect x="469.0" y="105.2" width="20.7" height="9.3" fill="#6d6d6d"/>
<rect x="489.1" y="105.2" width="40.9" height="9.3" fill="#494949"/>
<rect x="529.4" y="105.2" width="61.0" height="9.3" fill="#5b5b5b"/>
<rect x="26.2" y="113.9" width="61.0" height="9.3" fill="#929292"/>
<rect x="86.6" y="113.9" width="61.0" height="9.3" fill="#808080"/>
<rect x="147.0" y="113.9" width="20.7" height="9.3" fill="#929292"/>
<rect x="167.1" y="113.9" width="40.9" height="9.3" fill="#a4a4a4"/>
<rect x="207.4" y="113.9" width="20.7" height="9.3" fill="#808080"/>
<rect x="227.5" y="113.9" width="40.9" height="9.3" fill="#a4a4a4"/>
<rect x="267.8" y="113.9" width="20.7" height="9.3" fill="#929292"/>
<rect x="287.9" y="113.9" width="61.0" height="9.3" fill="#808080"/>
<rect x="348.2" y="113.9" width="20.7" height="9.3" fill="#929292"/>
<rect x="368.4" y="113.9" width="20.7" height="9.3" fill="#a4a4a4"/>
<rect x="388.5" y="113.9" width="81.1" height="9.3" fill="#929292"/>
<rect x="469.0" y="113.9" width="20.7" height="9.3" fill="#6d6d6d"/>
<rect x="489.1" y="113.9" width="40.9" height="9.3" fill="#494949"/>
<rect x="529.4" y="113.9" width="61.0" height="9.3" fill="#5b5b5b"/>
<rect x="26.2" y="122.6" width="61.0" height="9.3" fill="#929292"/>
<rect x="86.6" y="122.6" width="61.0" height="9.3" fill="#808080"/>
<rect x="147.0" y="122.6" width="20.7" height="9.3" fill="#929292"/>
<rect x="167.1" y="122.6" width="40.9" height="9.3" fill="#a4a4a4"/>
<rect x="207.4" y="122.6" width="20.7" height="9.3" fill="#808080"/>
<rect x="227.5" y="122.6" width="40.9" height="9.3" fill="#a4a4a4"/>
<rect x="267.8" y="122.6" width="20.7" height="9.3" fill="#929292"/>
<rect x="287.9" y="122.6" width="61.0" height="9.3" fill="#808080"/>
<rect x="348.2" y="122.6" width="20.7" height="9.3" fill="#929292"/>
<rect x="368.4" y="122.6" width="20.7" height="9.3" fill="#a4a4a4"/>
<rect x="388.5" y="122.6" width="81.1" height="9.3" fill="#929292"/>
<rect x="469.0" y="122.6" width="20.7" height="9.3" fill="#6d6d6d"/>
<rect x="489.1" y="122.6" width="40.9" height="9.3" fill="#494949"/>
<rect x="529.4" y="122.6" width="61.0" height="9.3" fill="#5b5b5b"/>
<rect x="26.2" y="131.3" width="61.0" height="9.3" fill="#929292"/>
<rect x="86.6" y="131.3" width="61.0" height="9.3" fill="#808080"/>
<rect x="147.0" y="131.3" width="20.7" height="9.3" fill="#929292"/>
<rect x="167.1" y="131.3" width="40.9" height="9.3" fill="#a4a4a4"/>
<rect x="207.4" y="131.3" width="20.7" height="9.3" fill="#808080"/>
<rect x="227.5" y="131.3" width="40.9" height="9.3" fill="#a4a4a4"/>
<rect x="267.8" y="131.3" width="20.7" height="9.3" fill="#929292"/>
<rect x="287.9" y="131.3" width="61.0" height="9.3" fill="#808080"/>
<rect x="348.2" y="131.3" width="20.7" height="9.3" fill="#929292"/>
<rect x="368.4" y="131.3" width="20.7" height="9.3" fill="#a4a4a4"/>
<rect x="388.5" y="131.3" width="81.1" height="9.3" fill="#929292"/>
<rect x="469.0" y="131.3" width="20.7" height="9.3" fill="#6d6d6d"/>
<rect x="489.1" y="131.3" width="40.9" height="9.3" fill="#494949"/>
<rect x="529.4" y="131.3" width="61.0" height="9.3" fill="#5b5b5b"/>
<rect x="26.2" y="140.0" width="61.0" height="9.3" fill="#929292"/>
<rect x="86.6" y="140.0" width="61.0" height="9.3" fill="#808080"/>
<rect x="147.0" y="140.0" width="20.7" height="9.3" fill="#929292"/>
<rect x="167.1" y="140.0" width="40.9" height="9.3" fill="#a4a4a4"/>
<rect x="207.4" y="140.0" width="20.7" height="9.3" fill="#808080"/>
<rect x="227.5" y="140.0" width="40.9" height="9.3" fill="#a4a4a4"/>
<rect x="267.8" y="140.0" width="20.7" height="9.3" fill="#929292"/>
<rect x="287.9" y="140.0" width="61.0" height="9.3" fill="#808080"/>
<rect x="348.2" y="140.0" width="20.7" height="9.3" fill="#929292"/>
<rect x="368.4" y="140.0" width="20.7" height="9.3" fill="#a4a4a4"/>
<rect x="388.5" y="140.0" width="81.1" height="9.3" fill="#929292"/>
<rect x="469.0" y="140.0" width="20.7" height="9.3" fill="#6d6d6d"/>
<rect x="489.1" y="140.0" width="40.9" height="9.3" fill="#494949"/>
<rect x="529.4" y="140.0" width="61.0" height="9.3" fill="#5b5b5b"/>
<rect x="26.2" y="148.7" width="61.0" height="9.3" fill="#929292"/>
<rect x="86.6" y="148.7" width="61.0" height="9.3" fill="#808080"/>
<rect x="147.0" y="148.7" width="20.7" height="9.3" fill="#929292"/>
<rect x="167.1" y="148.7" width="40.9" height="9.3" fill="#a4a4a4"/>
<rect x="207.4" y="148.7" width="20.7" height="9.3" fill="#808080"/>
<rect x="227.5" y="148.7" width="40.9" height="9.3" fill="#a4a4a4"/>
<rect x="267.8" y="148.7" width="20.7" height="9.3" fill="#929292"/>
<rect x="287.9" y="148.7" width="61.0" height="9.3" fill="#808080"/>
<rect x="348.2" y="148.7" width="20.7" height="9.3" fill="#929292"/>
<rect x="368.4" y="148.7" width="20.7" height="9.3" fill="#a4a4a4"/>
<rect x="388.5" y="148.7" width="81.1" height="9.3" fill="#929292"/>
<rect x="469.0" y="148.7" width="20.7" height="9.3" fill="#6d6d6d"/>
<rect x="489.1" y="148.7" width="40.9" height="9.3" fill="#494949"/>
<rect x="529.4" y="148.7" width="61.0" height="9.3" fill="#5b5b5b"/>
<rect x="26.2" y="157.4" width="61.0" height="9.3" fill="#929292"/>
<rect x="86.6" y="157.4" width="61.0" height="9.3" fill="#808080"/>
<rect x="147.0" y="157.4" width="20.7" height="9.3" fill="#929292"/>
<rect x="167.1" y="157.4" width="40.9" height="9.3" fill="#a4a4a4"/>
<rect x="207.4" y="157.4" width="20.7" height="9.3" fill="#808080"/>
<rect x="227.5" y="157.4" width="40.9" height="9.3" fill="#a4a4a4"/>
<rect x="267.8" y="157.4" width="20.7" height="9.3" fill="#929292"/>
<rect x="287.9" y="157.4" width="61.0" height="9.3" fill="#808080"/>
<rect x="348.2" y="157.4" width="20.7" height="9.3" fill="#929292"/>
<rect x="368.4" y="157.4" width="20.7" height="9.3" fill="#a4a4a4"/>
<rect x="388.5" y="157.4" width="81.1" height="9.3" fill="#929292"/>
<rect x="469.0" y="157.4" width="20.7" height="9.3" fill="#6d6d6d"/>
<rect x="489.1" y="157.4" width="40.9" height="9.3" fill="#494949"/>
<rect x="529.4" y="157.4" width="61.0" height="9.3" fill="#5b5b5b"/>
<rect x="26.2" y="166.1" width="61.0" height="9.3" fill="#929292"/>
<rect x="86.6" y="166.1" width="61.0" height="9.3" fill="#808080"/>
<rect x="147.0" y="166.1" width="20.7" height="9.3" fill="#929292"/>
<rect x="167.1" y="166.1" width="40.9" height="9.3" fill="#a4a4a4"/>
<rect x="207.4" y="166.1" width="20.7" height="9.3" fill="#808080"/>
<rect x="227.5" y="166.1" width="40.9" height="9.3" fill="#a4a4a4"/>
<rect x="267.8" y="166.1" width="20.7" height="9.3" fill="#929292"/>
<rect x="287.9" y="166.1" width="61.0" height="9.3" fill="#808080"/>
<rect x="348.2" y="166.1" width="20.7" height="9.3" fill="#929292"/>
<rect x="368.4" y="166.1" width="20.7" height="9.3" fill="#a4a4a4"/>
<rect x="388.5" y="166.1" width="81.1" height="9.3" fill="#929292"/>
<rect x="469.0" y="166.1" width="20.7" height="9.3" fill="#6d6d6d"/>
<rect x="489.1" y="166.1" width="40.9" height="9.3" fill="#494949"/>
<rect x="529.4" y="166.1" width="61.0" height="9.3" fill="#5b5b5b"/>
<rect x="26.2" y="174.8" width="61.0" height="9.3" fill="#929292"/>
<rect x="86.6" y="174.8" width="61.0" height="9.3" fill="#808080"/>
<rect x="147.0" y="174.8" width="20.7" height="9.3" fill="#929292"/>
<rect x="167.1" y="174.8" width="40.9" height="9.3" fill="#a4a4a4"/>
<rect x="207.4" y="174.8" width="20.7" height="9.3" fill="#808080"/>
<rect x="227.5" y="174.8" width="40.9" height="9.3" fill="#a4a4a4"/>
<rect x="267.8" y="174.8" width="20.7" height="9.3" fill="#929292"/>
<rect x="287.9" y="174.8" width="61.0" height="9.3" fill="#808080"/>
<rect x="348.2" y="174.8" width="20.7" height="9.3" fill="#929292"/>
<rect x="368.4" y="174.8" width="20.7" height="9.3" fill="#a4a4a4"/>
<rect x="388.5" y="174.8" width="81.1" height="9.3" fill="#929292"/>
<rect x="469.0" y="174.8" width="20.7" height="9.3" fill="#6d6d6d"/>
<rect x="489.1" y="174.8" width="40.9" height="9.3" fill="#494949"/>
<rect x="529.4" y="174.8" width="61.0" height="9.3" fill="#5b5b5b"/>
<rect x="26.2" y="183.5" width="61.0" height="9.3" fill="#929292"/>
<rect x="86.6" y="183.5" width="40.9" height="9.3" fill="#808080"/>
<rect x="126.9" y="183.5" width="20.7" height="9.3" fill="#929292"/>
<rect x="147.0" y="183.5" width="40.9" height="9.3" fill="#a4a4a4"/>
<rect x="187.2" y="183.5" width="20.7" height="9.3" fill="#929292"/>
<rect x="207.4" y="183.5" width="20.7" height="9.3" fill="#808080"/>
<rect x="227.5" y="183.5" width="40.9" height="9.3" fill="#a4a4a4"/>
<rect x="267.8" y="183.5" width="20.7" height="9.3" fill="#929292"/>
<rect x="287.9" y="183.5" width="61.0" height="9.3" fill="#808080"/>
<rect x="348.2" y="183.5" width="20.7" height="9.3" fill="#929292"/>
<rect x="368.4" y="183.5" width="20.7" height="9.3" fill="#a4a4a4"/>
<rect x="388.5" y="183.5" width="61.0" height="9.3" fill="#929292"/>
<rect x="448.9" y="183.5" width="20.7" height="9.3" fill="#808080"/>
<rect x="469.0" y="183.5" width="20.7" height="9.3" fill="#6d6d6d"/>
<rect x="489.1" y="183.5" width="40.9" height="9.3" fill="#494949"/>
<rect x="529.4" y="183.5" width="61.0" height="9.3" fill="#5b5b5b"/>
<rect x="26.2" y="192.2" width="161.6" height="9.3" fill="#929292"/>
<rect x="187.2" y="192.2" width="20.7" height="9.3" fill="#a4a4a4"/>
<rect x="207.4" y="192.2" width="20.7" height="9.3" fill="#929292"/>
<rect x="227.5" y="192.2" width="40.9" height="9.3" fill="#a4a4a4"/>
<rect x="267.8" y="192.2" width="20.7" height="9.3" fill="#929292"/>
<rect x="287.9" y="192.2" width="61.0" height="9.3" fill="#808080"/>
<rect x="348.2" y="192.2" width="40.9" height="9.3" fill="#929292"/>
<rect x="388.5" y="192.2" width="20.7" height="9.3" fill="#a4a4a4"/>
<rect x="408.6" y="192.2" width="61.0" height="9.3" fill="#929292"/>
<rect x="469.0" y="192.2" width="20.7" height="9.3" fill="#808080"/>
<rect x="489.1" y="192.2" width="101.2" height="9.3" fill="#5b5b5b"/>
<rect x="26.2" y="200.9" width="81.1" height="9.3" fill="#929292"/>
<rect x="106.8" y="200.9" width="40.9" height="9.3" fill="#a4a4a4"/>
<rect x="147.0" y="200.9" width="20.7" height="9.3" fill="#929292"/>
<rect x="167.1" y="200.9" width="81.1" height="9.3" fill="#a4a4a4"/>
<rect x="247.6" y="200.9" width="20.7" height="9.3" fill="#929292"/>
<rect x="267.8" y="200.9" width="20.7" height="9.3" fill="#808080"/>
<rect x="287.9" y="200.9" width="61.0" height="9.3" fill="#929292"/>
<rect x="348.2" y="200.9" width="20.7" height="9.3" fill="#a4a4a4"/>
<rect x="368.4" y="200.9" width="40.9" height="9.3" fill="#808080"/>
<rect x="408.6" y="200.9" width="20.7" height="9.3" fill="#929292"/>
<rect x="428.8" y="200.9" width="40.9" height="9.3" fill="#a4a4a4"/>
<rect x="469.0" y="200.9" width="20.7" height="9.3" fill="#929292"/>
<rect x="489.1" y="200.9" width="20.7" height="9.3" fill="#808080"/>
<rect x="509.2" y="200.9" width="81.1" height="9.3" fill="#6d6d6d"/>
<rect x="26.2" y="209.6" width="81.1" height="9.3" fill="#929292"/>
<rect x="106.8" y="209.6" width="20.7" height="9.3" fill="#b6b6b6"/>
<rect x="126.9" y="209.6" width="20.7" height="9.3" fill="#a4a4a4"/>
<rect x="147.0" y="209.6" width="20.7" height="9.3" fill="#929292"/>
<rect x="167.1" y="209.6" width="141.5" height="9.3" fill="#a4a4a4"/>
<rect x="308.0" y="209.6" width="61.0" height="9.3" fill="#808080"/>
<rect x="368.4" y="209.6" width="20.7" height="9.3" fill="#929292"/>
<rect x="388.5" y="209.6" width="40.9" height="9.3" fill="#a4a4a4"/>
<rect x="428.8" y="209.6" width="40.9" height="9.3" fill="#929292"/>
<rect x="469.0" y="209.6" width="20.7" height="9.3" fill="#a4a4a4"/>
<rect x="489.1" y="209.6" width="20.7" height="9.3" fill="#929292"/>
<rect x="509.2" y="209.6" width="20.7" height="9.3" fill="#808080"/>
<rect x="529.4" y="209.6" width="61.0" height="9.3" fill="#929292"/>
<rect x="26.2" y="218.3" width="81.1" height="9.3" fill="#929292"/>
<rect x="106.8" y="218.3" width="20.7" height="9.3" fill="#a4a4a4"/>
<rect x="126.9" y="218.3" width="40.9" height="9.3" fill="#b6b6b6"/>
<rect x="167.1" y="218.3" width="20.7" height="9.3" fill="#a4a4a4"/>
<rect x="187.2" y="218.3" width="101.2" height="9.3" fill="#b6b6b6"/>
<rect x="287.9" y="218.3" width="20.7" height="9.3" fill="#a4a4a4"/>
<rect x="308.0" y="218.3" width="61.0" height="9.3" fill="#808080"/>
<rect x="368.4" y="218.3" width="20.7" height="9.3" fill="#a4a4a4"/>
<rect x="388.5" y="218.3" width="40.9" height="9.3" fill="#b6b6b6"/>
<rect x="428.8" y="218.3" width="20.7" height="9.3" fill="#929292"/>
<rect x="448.9" y="218.3" width="20.7" height="9.3" fill="#808080"/>
<rect x="469.0" y="218.3" width="40.9" height="9.3" fill="#929292"/>
<rect x="509.2" y="218.3" width="20.7" height="9.3" fill="#a4a4a4"/>
<rect x="529.4" y="218.3" width="61.0" height="9.3" fill="#b6b6b6"/>
<rect x="26.2" y="227.0" width="61.0" height="9.3" fill="#808080"/>
<rect x="86.6" y="227.0" width="20.7" height="9.3" fill="#929292"/>
<rect x="106.8" y="227.0" width="20.7" height="9.3" fill="#a4a4a4"/>
<rect x="126.9" y="227.0" width="101.2" height="9.3" fill="#c8c8c8"/>
<rect x="227.5" y="227.0" width="20.7" height="9.3" fill="#b6b6b6"/>
<rect x="247.6" y="227.0" width="20.7" height="9.3" fill="#c8c8c8"/>
<rect x="267.8" y="227.0" width="20.7" height="9.3" fill="#b6b6b6"/>
<rect x="287.9" y="227.0" width="20.7" height="9.3" fill="#a4a4a4"/>
<rect x="308.0" y="227.0" width="40.9" height="9.3" fill="#929292"/>
<rect x="348.2" y="227.0" width="20.7" height="9.3" fill="#a4a4a4"/>
<rect x="368.4" y="227.0" width="20.7" height="9.3" fill="#929292"/>
<rect x="388.5" y="227.0" width="61.0" height="9.3" fill="#a4a4a4"/>
<rect x="448.9" y="227.0" width="20.7" height="9.3" fill="#b6b6b6"/>
<rect x="469.0" y="227.0" width="20.7" height="9.3" fill="#a4a4a4"/>
<rect x="489.1" y="227.0" width="20.7" height="9.3" fill="#929292"/>
<rect x="509.2" y="227.0" width="20.7" height="9.3" fill="#a4a4a4"/>
<rect x="529.4" y="227.0" width="61.0" height="9.3" fill="#929292"/>
<rect x="26.2" y="235.7" width="61.0" height="9.3" fill="#929292"/>
<rect x="86.6" y="235.7" width="20.7" height="9.3" fill="#a4a4a4"/>
<rect x="106.8" y="235.7" width="20.7" height="9.3" fill="#b6b6b6"/>
<rect x="126.9" y="235.7" width="81.1" height="9.3" fill="#c8c8c8"/>
<rect x="207.4" y="235.7" width="61.0" height="9.3" fill="#b6b6b6"/>
<rect x="267.8" y="235.7" width="40.9" height="9.3" fill="#a4a4a4"/>
<rect x="308.0" y="235.7" width="20.7" height="9.3" fill="#929292"/>
<rect x="328.1" y="235.7" width="40.9" height="9.3" fill="#808080"/>
<rect x="368.4" y="235.7" width="20.7" height="9.3" fill="#929292"/>
<rect x="388.5" y="235.7" width="20.7" height="9.3" fill="#808080"/>
<rect x="408.6" y="235.7" width="20.7" height="9.3" fill="#929292"/>
<rect x="428.8" y="235.7" width="20.7" height="9.3" fill="#a4a4a4"/>
<rect x="448.9" y="235.7" width="81.1" height="9.3" fill="#b6b6b6"/>
<rect x="529.4" y="235.7" width="61.0" height="9.3" fill="#a4a4a4"/>
<rect x="26.2" y="244.4" width="61.0" height="9.3" fill="#929292"/>
<rect x="86.6" y="244.4" width="20.7" height="9.3" fill="#a4a4a4"/>
<rect x="106.8" y="244.4" width="40.9" height="9.3" fill="#b6b6b6"/>
<rect x="147.0" y="244.4" width="20.7" height="9.3" fill="#a4a4a4"/>
<rect x="167.1" y="244.4" width="81.1" height="9.3" fill="#b6b6b6"/>
<rect x="247.6" y="244.4" width="81.1" height="9.3" fill="#a4a4a4"/>
<rect x="328.1" y="244.4" width="40.9" height="9.3" fill="#808080"/>
<rect x="368.4" y="244.4" width="40.9" height="9.3" fill="#929292"/>
<rect x="408.6" y="244.4" width="20.7" height="9.3" fill="#c8c8c8"/>
<rect x="428.8" y="244.4" width="20.7" height="9.3" fill="#b6b6b6"/>
<rect x="448.9" y="244.4" width="20.7" height="9.3" fill="#c8c8c8"/>
<rect x="469.0" y="244.4" width="61.0" height="9.3" fill="#b6b6b6"/>
<rect x="529.4" y="244.4" width="61.0" height="9.3" fill="#a4a4a4"/>
<rect x="26.2" y="253.1" width="61.0" height="9.3" fill="#929292"/>
<rect x="86.6" y="253.1" width="40.9" height="9.3" fill="#b6b6b6"/>
<rect x="126.9" y="253.1" width="20.7" height="9.3" fill="#a4a4a4"/>
<rect x="147.0" y="253.1" width="20.7" height="9.3" fill="#929292"/>
<rect x="167.1" y="253.1" width="20.7" height="9.3" fill="#808080"/>
<rect x="187.2" y="253.1" width="20.7" height="9.3" fill="#929292"/>
<rect x="207.4" y="253.1" width="20.7" height="9.3" fill="#b6b6b6"/>
<rect x="227.5" y="253.1" width="20.7" height="9.3" fill="#a4a4a4"/>
<rect x="247.6" y="253.1" width="20.7" height="9.3" fill="#808080"/>
<rect x="267.8" y="253.1" width="101.2" height="9.3" fill="#929292"/>
<rect x="368.4" y="253.1" width="40.9" height="9.3" fill="#a4a4a4"/>
<rect x="408.6" y="253.1" width="20.7" height="9.3" fill="#b6b6b6"/>
<rect x="428.8" y="253.1" width="40.9" height="9.3" fill="#c8c8c8"/>
<rect x="469.0" y="253.1" width="40.9" height="9.3" fill="#b6b6b6"/>
<rect x="509.2" y="253.1" width="81.1" height="9.3" fill="#a4a4a4"/>
<rect x="26.2" y="261.8" width="61.0" height="9.3" fill="#929292"/>
<rect x="86.6" y="261.8" width="20.7" height="9.3" fill="#a4a4a4"/>
<rect x="106.8" y="261.8" width="20.7" height="9.3" fill="#929292"/>
<rect x="126.9" y="261.8" width="20.7" height="9.3" fill="#808080"/>
<rect x="147.0" y="261.8" width="20.7" height="9.3" fill="#6d6d6d"/>
<rect x="167.1" y="261.8" width="262.2" height="9.3" fill="#929292"/>
<rect x="428.8" y="261.8" width="20.7" height="9.3" fill="#b6b6b6"/>
<rect x="448.9" y="261.8" width="20.7" height="9.3" fill="#c8c8c8"/>
<rect x="469.0" y="261.8" width="20.7" height="9.3" fill="#b6b6b6"/>
<rect x="489.1" y="261.8" width="40.9" height="9.3" fill="#a4a4a4"/>
<rect x="529.4" y="261.8" width="61.0" height="9.3" fill="#b6b6b6"/>
<rect x="26.2" y="270.5" width="61.0" height="9.3" fill="#929292"/>
<rect x="86.6" y="270.5" width="20.7" height="9.3" fill="#a4a4a4"/>
<rect x="106.8" y="270.5" width="20.7" height="9.3" fill="#929292"/>
<rect x="126.9" y="270.5" width="20.7" height="9.3" fill="#808080"/>
<rect x="147.0" y="270.5" width="20.7" height="9.3" fill="#6d6d6d"/>
<rect x="167.1" y="270.5" width="262.2" height="9.3" fill="#929292"/>
<rect x="428.8" y="270.5" width="20.7" height="9.3" fill="#b6b6b6"/>
<rect x="448.9" y="270.5" width="20.7" height="9.3" fill="#c8c8c8"/>
<rect x="469.0" y="270.5" width="20.7" height="9.3" fill="#b6b6b6"/>
<rect x="489.1" y="270.5" width="40.9" height="9.3" fill="#a4a4a4"/>
<rect x="529.4" y="270.5" width="61.0" height="9.3" fill="#b6b6b6"/>
<rect x="26.2" y="279.2" width="61.0" height="9.3" fill="#929292"/>
<rect x="86.6" y="279.2" width="20.7" height="9.3" fill="#a4a4a4"/>
<rect x="106.8" y="279.2" width="20.7" height="9.3" fill="#929292"/>
<rect x="126.9" y="279.2" width="20.7" height="9.3" fill="#808080"/>
<rect x="147.0" y="279.2" width="20.7" height="9.3" fill="#6d6d6d"/>
<rect x="167.1" y="279.2" width="262.2" height="9.3" fill="#929292"/>
<rect x="428.8" y="279.2" width="20.7" height="9.3" fill="#b6b6b6"/>
<rect x="448.9" y="279.2" width="20.7" height="9.3" fill="#c8c8c8"/>
<rect x="469.0" y="279.2" width="20.7" height="9.3" fill="#b6b6b6"/>
<rect x="489.1" y="279.2" width="40.9" height="9.3" fill="#a4a4a4"/>
<rect x="529.4" y="279.2" width="61.0" height="9.3" fill="#b6b6b6"/>
</g></g>
</g>
<line x1="126.8" y1="9.6" x2="126.8" y2="266.5" stroke="#000" stroke-width="4" stroke-linecap="round"/>
<line x1="248.0" y1="9.9" x2="248.0" y2="262.5" stroke="#000" stroke-width="4" stroke-linecap="round"/>
<line x1="368.3" y1="9.6" x2="368.3" y2="260.4" stroke="#000" stroke-width="4" stroke-linecap="round"/>
<line x1="489.8" y1="9.6" x2="489.8" y2="270.2" stroke="#000" stroke-width="4" stroke-linecap="round"/>
<line x1="307.9" y1="10.2" x2="307.9" y2="270" stroke="#fff" stroke-width="3.6" stroke-dasharray="7.4 3.8" stroke-dashoffset="-3.8"/>
<polyline points="66.5,66.5 125.0,66.5 140.0,67.4 160.0,69.0 180.0,69.6 200.0,68.0 215.0,66.6 230.0,69.0 250.0,68.4 270.0,70.4 290.0,72.4 340.0,72.4 360.0,75.6 370.0,75.6 390.0,72.4 400.0,71.3 410.0,72.0 420.0,71.7 430.0,70.4 440.0,69.0 450.0,69.6 460.0,70.9 475.0,72.3 548.0,72.4" fill="none" stroke="#000" stroke-width="3" stroke-dasharray="7.4 3.8" stroke-dashoffset="-3.8"/>
<polyline points="66.5,121.1 125.0,121.1 140.0,121.4 160.0,123.0 170.0,124.8 190.0,127.6 210.0,130.4 230.0,134.4 245.0,133.0 260.0,132.4 275.0,134.4 288.0,133.8 300.0,136.6 320.0,140.0 340.0,140.0 360.0,141.0 380.0,141.0 395.0,139.5 410.0,140.6 430.0,141.4 440.0,140.6 450.0,138.6 465.0,140.6 475.0,144.0 490.0,147.0 548.0,147.3" fill="none" stroke="#000" stroke-width="3" stroke-dasharray="7.4 3.8" stroke-dashoffset="-3.8"/>
<polyline points="66.5,172.4 130.0,172.4 150.0,174.0 165.0,175.6 178.0,174.6 185.0,175.0 205.0,175.0 220.0,180.0 230.0,184.4 250.0,185.6 270.0,185.6 288.0,186.0 300.0,188.6 320.0,189.0 340.0,188.0 360.0,185.0 380.0,183.0 390.0,181.0 410.0,183.0 420.0,184.4 430.0,179.6 450.0,178.4 465.0,179.0 480.0,179.6 490.0,181.6 548.0,181.6" fill="none" stroke="#000" stroke-width="3" stroke-dasharray="7.4 3.8" stroke-dashoffset="-3.8"/>
<path d="M66.5 9 V271 M66 9.5 H551 M66 270.5 H551 M550.5 4 V276" stroke="#222" stroke-width="1" fill="none"/>
<path d="M61 22.1 H66 M551 22.1 H556 M61 52.4 H66 M551 52.4 H556 M61 82.6 H66 M551 82.6 H556 M61 112.9 H66 M551 112.9 H556 M61 143.2 H66 M551 143.2 H556 M61 173.4 H66 M551 173.4 H556 M61 203.7 H66 M551 203.7 H556 M61 234.0 H66 M551 234.0 H556 M61 264.3 H66 M551 264.3 H556 M96.3 271 V276 M96.3 4 V9 M247.6 271 V276 M247.6 4 V9 M399.0 271 V276 M399.0 4 V9 M550.4 271 V276 M550.4 4 V9" stroke="#222" stroke-width="1" fill="none" shape-rendering="crispEdges"/>
<text x="56" y="29.1" font-family="Liberation Sans, sans-serif" font-size="19.5" text-anchor="end">56</text>
<text x="56" y="89.6" font-family="Liberation Sans, sans-serif" font-size="19.5" text-anchor="end">54</text>
<text x="56" y="150.2" font-family="Liberation Sans, sans-serif" font-size="19.5" text-anchor="end">52</text>
<text x="56" y="210.7" font-family="Liberation Sans, sans-serif" font-size="19.5" text-anchor="end">50</text>
<text x="56" y="271.3" font-family="Liberation Sans, sans-serif" font-size="19.5" text-anchor="end">48</text>
<text x="96.3" y="298" font-family="Liberation Sans, sans-serif" font-size="19.5" text-anchor="middle">165</text>
<text x="247.6" y="298" font-family="Liberation Sans, sans-serif" font-size="19.5" text-anchor="middle">170</text>
<text x="399.0" y="298" font-family="Liberation Sans, sans-serif" font-size="19.5" text-anchor="middle">175</text>
<text x="550.4" y="298" font-family="Liberation Sans, sans-serif" font-size="19.5" text-anchor="middle">180</text>
<text x="307.2" y="321.8" font-family="Liberation Sans, sans-serif" font-size="19.5" letter-spacing="0.45" text-anchor="middle">distance [m]</text>
<text transform="translate(22.4,140.4) rotate(-90)" font-family="Liberation Sans, sans-serif" font-size="19.5" letter-spacing="0.35" text-anchor="middle">elevation [m]</text>
<text x="531.5" y="28.8" font-family="Liberation Sans, sans-serif" font-size="19" font-weight="bold" text-anchor="middle">(b)</text>
<defs><linearGradient id="cb" x1="0" y1="0" x2="0" y2="1"><stop offset="0.000" stop-color="#800000"/><stop offset="0.031" stop-color="#9f0000"/><stop offset="0.062" stop-color="#bf0000"/><stop offset="0.094" stop-color="#df0000"/><stop offset="0.125" stop-color="#ff0000"/><stop offset="0.156" stop-color="#ff2000"/><stop offset="0.188" stop-color="#ff4000"/><stop offset="0.219" stop-color="#ff6000"/><stop offset="0.250" stop-color="#ff8000"/><stop offset="0.281" stop-color="#ff9f00"/><stop offset="0.312" stop-color="#ffbf00"/><stop offset="0.344" stop-color="#ffdf00"/><stop offset="0.375" stop-color="#ffff00"/><stop offset="0.406" stop-color="#dfff20"/><stop offset="0.438" stop-color="#bfff40"/><stop offset="0.469" stop-color="#9fff60"/><stop offset="0.500" stop-color="#80ff80"/><stop offset="0.531" stop-color="#60ff9f"/><stop offset="0.562" stop-color="#40ffbf"/><stop offset="0.594" stop-color="#20ffdf"/><stop offset="0.625" stop-color="#00ffff"/><stop offset="0.656" stop-color="#00dfff"/><stop offset="0.688" stop-color="#00bfff"/><stop offset="0.719" stop-color="#009fff"/><stop offset="0.750" stop-color="#0080ff"/><stop offset="0.781" stop-color="#0060ff"/><stop offset="0.812" stop-color="#0040ff"/><stop offset="0.844" stop-color="#0020ff"/><stop offset="0.875" stop-color="#0000ff"/><stop offset="0.906" stop-color="#0000df"/><stop offset="0.938" stop-color="#0000bf"/><stop offset="0.969" stop-color="#00009f"/><stop offset="1.000" stop-color="#000080"/></linearGradient></defs>
<rect x="559" y="121.5" width="12.5" height="148.5" fill="url(#cb)" stroke="#300" stroke-width="0.8"/>
<text x="576" y="138.5" font-family="Liberation Sans, sans-serif" font-size="19.5">5</text>
<text x="576" y="192" font-family="Liberation Sans, sans-serif" font-size="19.5">0</text>
<text x="576" y="245.6" font-family="Liberation Sans, sans-serif" font-size="19.5">-5</text>
<text transform="translate(573.2,60.6) rotate(-90)" font-family="Liberation Sans, sans-serif" font-size="16.5" letter-spacing="0.45" text-anchor="middle">ln (<tspan font-style="italic">K</tspan> [m/day])</text>
</svg>
</body></html>
